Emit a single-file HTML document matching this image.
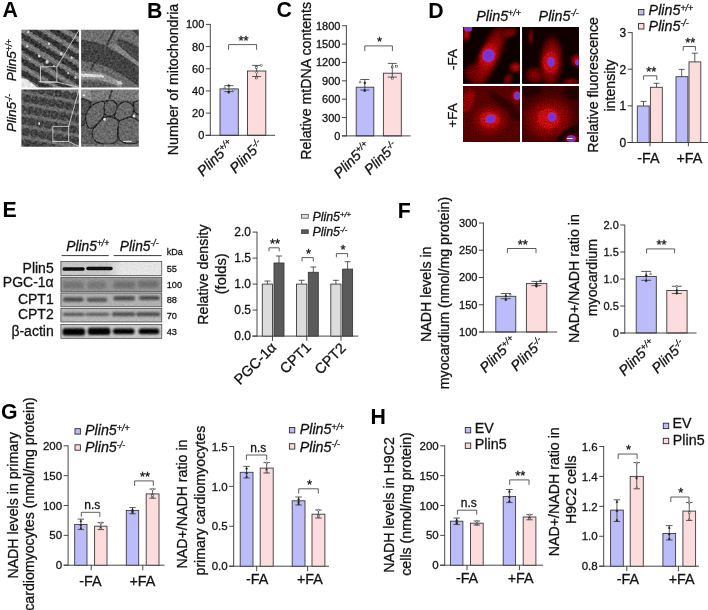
<!DOCTYPE html>
<html lang="en"><head><meta charset="utf-8"><title>Figure</title>
<style>html,body{margin:0;padding:0;background:#fff}body{width:708px;height:610px;overflow:hidden}svg{display:block}</style>
</head><body>
<svg width="708" height="610" viewBox="0 0 708 610" font-family='"Liberation Sans", Arial, sans-serif'>
<rect width="708" height="610" fill="#fff"/>
<defs>
<filter id="grain" x="0" y="0" width="100%" height="100%" color-interpolation-filters="sRGB">
 <feTurbulence type="fractalNoise" baseFrequency="0.45" numOctaves="2" seed="7" result="n"/>
 <feColorMatrix in="n" type="matrix" values="1.5 0 0 0 -0.25  1.5 0 0 0 -0.25  1.5 0 0 0 -0.25  0 0 0 0 1" result="g"/>
 <feGaussianBlur in="SourceGraphic" stdDeviation="0.6" result="b"/>
 <feComposite in="b" in2="g" operator="arithmetic" k1="0" k2="1" k3="0.24" k4="-0.12"/>
</filter>
<filter id="speck" x="0" y="0" width="100%" height="100%" color-interpolation-filters="sRGB">
 <feTurbulence type="fractalNoise" baseFrequency="0.7" numOctaves="2" seed="11" result="n"/>
 <feColorMatrix in="n" type="matrix" values="1.8 0 0 0 -0.4  1.8 0 0 0 -0.4  1.8 0 0 0 -0.4  0 0 0 0 1" result="g"/>
 <feGaussianBlur in="SourceGraphic" stdDeviation="1.3" result="b"/>
 <feComposite in="b" in2="g" operator="arithmetic" k1="0.45" k2="0.64" k3="0" k4="0"/>
</filter>
<filter id="bl1" x="-10%" y="-50%" width="120%" height="200%"><feGaussianBlur stdDeviation="0.9"/></filter>
<filter id="bl05" x="-10%" y="-50%" width="120%" height="200%"><feGaussianBlur stdDeviation="0.55"/></filter>
<filter id="bl2" x="-20%" y="-80%" width="140%" height="260%"><feGaussianBlur stdDeviation="1.6"/></filter>
<filter id="nucb" x="-30%" y="-30%" width="160%" height="160%"><feGaussianBlur stdDeviation="0.7"/></filter>
<filter id="blotn" x="0" y="0" width="100%" height="100%" color-interpolation-filters="sRGB">
 <feTurbulence type="fractalNoise" baseFrequency="0.5" numOctaves="2" seed="5" result="n"/>
 <feColorMatrix in="n" type="matrix" values="1 0 0 0 0  1 0 0 0 0  1 0 0 0 0  0 0 0 0 1" result="g"/>
 <feComposite in="SourceGraphic" in2="g" operator="arithmetic" k1="0" k2="1" k3="0.12" k4="-0.06"/>
</filter>
<radialGradient id="cellR"><stop offset="0" stop-color="#f01414"/><stop offset="0.3" stop-color="#c00606"/><stop offset="0.65" stop-color="#840000" stop-opacity="0.9"/><stop offset="1" stop-color="#500000" stop-opacity="0"/></radialGradient>
<radialGradient id="cellD"><stop offset="0" stop-color="#a40202"/><stop offset="0.6" stop-color="#780000" stop-opacity="0.85"/><stop offset="1" stop-color="#400000" stop-opacity="0"/></radialGradient>
<radialGradient id="nuc"><stop offset="0" stop-color="#6038e0"/><stop offset="0.65" stop-color="#7a34d4"/><stop offset="1" stop-color="#c02490"/></radialGradient>
<clipPath id="cA1"><rect x="21.4" y="29.8" width="57.5" height="57.8"/></clipPath>
<clipPath id="cA2"><rect x="81.1" y="29.8" width="57.7" height="57.8"/></clipPath>
<clipPath id="cA3"><rect x="21.4" y="89.4" width="57.5" height="57.3"/></clipPath>
<clipPath id="cA4"><rect x="81.1" y="89.4" width="57.7" height="57.3"/></clipPath>
<clipPath id="cD1"><rect x="463.1" y="26.9" width="56.8" height="56.9"/></clipPath>
<clipPath id="cD2"><rect x="522.2" y="26.9" width="56.6" height="56.9"/></clipPath>
<clipPath id="cD3"><rect x="463.1" y="85.9" width="56.8" height="56.2"/></clipPath>
<clipPath id="cD4"><rect x="522.2" y="85.9" width="56.6" height="56.2"/></clipPath>
</defs>
<g clip-path="url(#cA1)"><g filter="url(#grain)">
<rect x="20" y="28" width="60" height="61" fill="#727272"/>
<g transform="rotate(31 50 58)">
<rect x="0" y="19.8" width="100" height="4.4" fill="#3e3e3e"/>
<ellipse cx="4.11" cy="22.04" rx="2.41" ry="2.86" fill="#343434" />
<ellipse cx="9.43" cy="21.57" rx="2.99" ry="2.61" fill="#343434" />
<ellipse cx="15.18" cy="21.73" rx="2.44" ry="3.30" fill="#343434" />
<ellipse cx="20.62" cy="21.98" rx="3.30" ry="3.05" fill="#343434" />
<ellipse cx="26.09" cy="22.37" rx="3.00" ry="2.97" fill="#343434" />
<ellipse cx="32.31" cy="21.56" rx="3.06" ry="3.13" fill="#343434" />
<ellipse cx="37.77" cy="21.53" rx="2.50" ry="3.21" fill="#343434" />
<ellipse cx="43.10" cy="22.38" rx="3.13" ry="3.10" fill="#343434" />
<ellipse cx="49.34" cy="22.30" rx="2.64" ry="2.91" fill="#343434" />
<ellipse cx="55.84" cy="21.60" rx="3.37" ry="2.70" fill="#343434" />
<ellipse cx="61.98" cy="21.94" rx="3.50" ry="3.04" fill="#343434" />
<ellipse cx="67.70" cy="21.89" rx="2.81" ry="2.85" fill="#343434" />
<ellipse cx="73.33" cy="22.40" rx="2.93" ry="3.08" fill="#343434" />
<ellipse cx="80.07" cy="22.49" rx="3.33" ry="3.07" fill="#343434" />
<ellipse cx="85.92" cy="22.46" rx="3.34" ry="3.23" fill="#343434" />
<ellipse cx="92.25" cy="21.71" rx="3.12" ry="3.18" fill="#343434" />
<ellipse cx="97.73" cy="21.56" rx="2.48" ry="3.20" fill="#343434" />
<rect x="0" y="26.6" width="100" height="0.9" fill="#8c8c8c"/>
<rect x="0" y="30.3" width="100" height="4.4" fill="#3e3e3e"/>
<ellipse cx="3.88" cy="32.80" rx="2.18" ry="2.89" fill="#343434" />
<ellipse cx="7.71" cy="32.77" rx="2.49" ry="3.21" fill="#343434" />
<ellipse cx="12.15" cy="32.04" rx="2.97" ry="3.10" fill="#343434" />
<ellipse cx="17.96" cy="32.98" rx="3.37" ry="2.95" fill="#343434" />
<ellipse cx="24.44" cy="32.08" rx="2.51" ry="3.02" fill="#343434" />
<ellipse cx="28.25" cy="32.41" rx="2.35" ry="3.03" fill="#343434" />
<ellipse cx="31.88" cy="32.87" rx="2.11" ry="2.82" fill="#343434" />
<ellipse cx="37.92" cy="32.38" rx="3.39" ry="2.92" fill="#343434" />
<ellipse cx="44.11" cy="32.60" rx="3.02" ry="2.99" fill="#343434" />
<ellipse cx="50.54" cy="32.51" rx="3.46" ry="2.90" fill="#343434" />
<ellipse cx="56.53" cy="32.30" rx="2.41" ry="3.28" fill="#343434" />
<ellipse cx="61.60" cy="32.01" rx="2.87" ry="2.89" fill="#343434" />
<ellipse cx="66.44" cy="32.62" rx="2.08" ry="3.04" fill="#343434" />
<ellipse cx="70.51" cy="32.47" rx="2.99" ry="3.08" fill="#343434" />
<ellipse cx="76.11" cy="32.74" rx="3.11" ry="2.62" fill="#343434" />
<ellipse cx="81.29" cy="32.96" rx="3.06" ry="2.78" fill="#343434" />
<ellipse cx="86.97" cy="32.32" rx="2.94" ry="2.85" fill="#343434" />
<ellipse cx="91.94" cy="32.60" rx="2.60" ry="2.81" fill="#343434" />
<ellipse cx="97.30" cy="32.03" rx="3.21" ry="3.00" fill="#343434" />
<rect x="0" y="37.1" width="100" height="0.9" fill="#8c8c8c"/>
<rect x="0" y="40.8" width="100" height="4.4" fill="#3e3e3e"/>
<ellipse cx="4.22" cy="42.72" rx="2.52" ry="3.16" fill="#343434" />
<ellipse cx="8.37" cy="42.94" rx="2.33" ry="3.09" fill="#343434" />
<ellipse cx="12.30" cy="42.83" rx="2.53" ry="3.18" fill="#343434" />
<ellipse cx="17.82" cy="42.67" rx="3.33" ry="2.84" fill="#343434" />
<ellipse cx="24.53" cy="42.95" rx="3.38" ry="2.76" fill="#343434" />
<ellipse cx="29.86" cy="42.69" rx="2.84" ry="3.16" fill="#343434" />
<ellipse cx="35.35" cy="42.78" rx="2.33" ry="3.17" fill="#343434" />
<ellipse cx="40.93" cy="42.85" rx="3.26" ry="2.69" fill="#343434" />
<ellipse cx="46.83" cy="42.77" rx="3.24" ry="2.84" fill="#343434" />
<ellipse cx="52.36" cy="42.91" rx="2.68" ry="3.24" fill="#343434" />
<ellipse cx="56.26" cy="43.44" rx="2.06" ry="3.22" fill="#343434" />
<ellipse cx="61.59" cy="43.45" rx="2.70" ry="3.25" fill="#343434" />
<ellipse cx="66.74" cy="43.34" rx="3.17" ry="3.06" fill="#343434" />
<ellipse cx="72.18" cy="42.84" rx="2.48" ry="2.76" fill="#343434" />
<ellipse cx="76.61" cy="42.79" rx="2.93" ry="3.17" fill="#343434" />
<ellipse cx="81.92" cy="43.19" rx="3.41" ry="3.25" fill="#343434" />
<ellipse cx="89.15" cy="43.08" rx="3.40" ry="2.61" fill="#343434" />
<ellipse cx="95.03" cy="42.80" rx="2.31" ry="3.06" fill="#343434" />
<ellipse cx="99.80" cy="43.44" rx="2.67" ry="3.03" fill="#343434" />
<rect x="0" y="47.6" width="100" height="0.9" fill="#8c8c8c"/>
<rect x="0" y="51.3" width="100" height="4.4" fill="#3e3e3e"/>
<ellipse cx="4.13" cy="53.86" rx="2.43" ry="2.93" fill="#343434" />
<ellipse cx="9.37" cy="53.20" rx="2.58" ry="2.97" fill="#343434" />
<ellipse cx="14.54" cy="53.79" rx="2.31" ry="3.25" fill="#343434" />
<ellipse cx="20.40" cy="53.01" rx="3.29" ry="3.04" fill="#343434" />
<ellipse cx="26.18" cy="53.27" rx="2.12" ry="2.79" fill="#343434" />
<ellipse cx="30.78" cy="53.47" rx="2.68" ry="3.14" fill="#343434" />
<ellipse cx="34.50" cy="53.13" rx="2.13" ry="2.69" fill="#343434" />
<ellipse cx="39.16" cy="53.85" rx="3.51" ry="2.66" fill="#343434" />
<ellipse cx="44.95" cy="53.31" rx="2.52" ry="2.85" fill="#343434" />
<ellipse cx="50.41" cy="53.36" rx="2.93" ry="2.73" fill="#343434" />
<ellipse cx="55.03" cy="53.56" rx="2.24" ry="3.10" fill="#343434" />
<ellipse cx="58.98" cy="53.18" rx="2.17" ry="2.86" fill="#343434" />
<ellipse cx="64.30" cy="53.38" rx="3.22" ry="3.16" fill="#343434" />
<ellipse cx="70.18" cy="53.37" rx="2.70" ry="2.95" fill="#343434" />
<ellipse cx="75.66" cy="53.69" rx="2.68" ry="2.92" fill="#343434" />
<ellipse cx="80.51" cy="53.70" rx="2.85" ry="2.65" fill="#343434" />
<ellipse cx="85.67" cy="53.88" rx="2.69" ry="3.26" fill="#343434" />
<ellipse cx="91.30" cy="53.79" rx="3.40" ry="2.78" fill="#343434" />
<ellipse cx="96.62" cy="53.81" rx="2.23" ry="3.06" fill="#343434" />
<rect x="0" y="58.1" width="100" height="0.9" fill="#8c8c8c"/>
<rect x="0" y="61.8" width="100" height="4.4" fill="#3e3e3e"/>
<ellipse cx="4.94" cy="64.17" rx="3.24" ry="3.11" fill="#343434" />
<ellipse cx="10.24" cy="64.09" rx="2.20" ry="2.60" fill="#343434" />
<ellipse cx="14.80" cy="63.54" rx="3.21" ry="2.66" fill="#343434" />
<ellipse cx="20.45" cy="63.68" rx="3.37" ry="2.62" fill="#343434" />
<ellipse cx="26.38" cy="64.34" rx="2.23" ry="3.07" fill="#343434" />
<ellipse cx="32.42" cy="64.08" rx="3.48" ry="3.16" fill="#343434" />
<ellipse cx="38.06" cy="64.01" rx="3.20" ry="3.10" fill="#343434" />
<ellipse cx="43.51" cy="64.43" rx="3.17" ry="2.64" fill="#343434" />
<ellipse cx="49.04" cy="64.33" rx="2.90" ry="2.77" fill="#343434" />
<ellipse cx="53.56" cy="64.12" rx="2.42" ry="3.13" fill="#343434" />
<ellipse cx="58.16" cy="63.90" rx="2.60" ry="2.85" fill="#343434" />
<ellipse cx="62.54" cy="64.00" rx="2.17" ry="3.28" fill="#343434" />
<ellipse cx="67.49" cy="63.66" rx="3.17" ry="3.08" fill="#343434" />
<ellipse cx="73.91" cy="64.02" rx="3.06" ry="2.94" fill="#343434" />
<ellipse cx="80.36" cy="63.65" rx="3.40" ry="2.67" fill="#343434" />
<ellipse cx="87.35" cy="64.02" rx="3.42" ry="2.91" fill="#343434" />
<ellipse cx="93.23" cy="63.77" rx="2.33" ry="2.74" fill="#343434" />
<ellipse cx="97.98" cy="63.73" rx="2.52" ry="3.08" fill="#343434" />
<rect x="0" y="68.6" width="100" height="0.9" fill="#8c8c8c"/>
<rect x="0" y="72.3" width="100" height="4.4" fill="#3e3e3e"/>
<ellipse cx="4.19" cy="74.71" rx="2.49" ry="2.89" fill="#343434" />
<ellipse cx="9.97" cy="74.27" rx="2.93" ry="2.75" fill="#343434" />
<ellipse cx="14.60" cy="74.38" rx="2.77" ry="2.72" fill="#343434" />
<ellipse cx="19.42" cy="74.77" rx="2.53" ry="2.70" fill="#343434" />
<ellipse cx="25.30" cy="74.60" rx="2.77" ry="2.93" fill="#343434" />
<ellipse cx="31.67" cy="74.56" rx="3.28" ry="2.94" fill="#343434" />
<ellipse cx="38.42" cy="74.40" rx="3.33" ry="3.11" fill="#343434" />
<ellipse cx="45.04" cy="74.23" rx="2.75" ry="2.76" fill="#343434" />
<ellipse cx="50.97" cy="74.96" rx="3.06" ry="3.20" fill="#343434" />
<ellipse cx="55.68" cy="74.26" rx="2.33" ry="2.73" fill="#343434" />
<ellipse cx="61.45" cy="74.90" rx="3.34" ry="2.78" fill="#343434" />
<ellipse cx="67.68" cy="74.42" rx="2.52" ry="3.11" fill="#343434" />
<ellipse cx="71.43" cy="74.83" rx="2.19" ry="2.80" fill="#343434" />
<ellipse cx="76.05" cy="74.68" rx="2.92" ry="2.60" fill="#343434" />
<ellipse cx="81.14" cy="74.49" rx="2.70" ry="2.75" fill="#343434" />
<ellipse cx="87.22" cy="74.39" rx="3.48" ry="2.98" fill="#343434" />
<ellipse cx="92.27" cy="74.67" rx="2.46" ry="2.68" fill="#343434" />
<ellipse cx="98.56" cy="74.10" rx="3.41" ry="3.26" fill="#343434" />
<rect x="0" y="79.1" width="100" height="0.9" fill="#8c8c8c"/>
<rect x="0" y="82.8" width="100" height="4.4" fill="#3e3e3e"/>
<ellipse cx="4.91" cy="85.26" rx="3.21" ry="2.81" fill="#343434" />
<ellipse cx="11.20" cy="85.31" rx="3.03" ry="2.79" fill="#343434" />
<ellipse cx="17.90" cy="85.17" rx="3.49" ry="2.98" fill="#343434" />
<ellipse cx="23.28" cy="84.85" rx="2.79" ry="3.10" fill="#343434" />
<ellipse cx="29.02" cy="84.68" rx="2.90" ry="3.05" fill="#343434" />
<ellipse cx="34.21" cy="85.39" rx="2.32" ry="3.06" fill="#343434" />
<ellipse cx="39.09" cy="84.64" rx="3.45" ry="2.83" fill="#343434" />
<ellipse cx="45.61" cy="85.05" rx="2.95" ry="3.05" fill="#343434" />
<ellipse cx="50.75" cy="84.68" rx="2.52" ry="2.65" fill="#343434" />
<ellipse cx="56.57" cy="85.04" rx="3.18" ry="3.12" fill="#343434" />
<ellipse cx="61.71" cy="84.88" rx="2.45" ry="3.21" fill="#343434" />
<ellipse cx="65.94" cy="84.75" rx="2.81" ry="3.14" fill="#343434" />
<ellipse cx="70.79" cy="84.90" rx="2.55" ry="2.98" fill="#343434" />
<ellipse cx="76.13" cy="85.35" rx="2.58" ry="2.68" fill="#343434" />
<ellipse cx="80.27" cy="84.61" rx="2.20" ry="3.15" fill="#343434" />
<ellipse cx="84.94" cy="84.69" rx="2.33" ry="2.89" fill="#343434" />
<ellipse cx="90.70" cy="85.25" rx="3.27" ry="3.01" fill="#343434" />
<ellipse cx="95.77" cy="84.69" rx="2.65" ry="2.97" fill="#343434" />
<rect x="0" y="89.6" width="100" height="0.9" fill="#8c8c8c"/>
<rect x="0" y="93.3" width="100" height="4.4" fill="#3e3e3e"/>
<ellipse cx="4.05" cy="95.25" rx="2.35" ry="3.15" fill="#343434" />
<ellipse cx="8.61" cy="95.89" rx="3.25" ry="3.26" fill="#343434" />
<ellipse cx="14.30" cy="95.58" rx="2.88" ry="3.04" fill="#343434" />
<ellipse cx="20.82" cy="95.30" rx="3.08" ry="3.20" fill="#343434" />
<ellipse cx="26.57" cy="95.73" rx="2.95" ry="2.60" fill="#343434" />
<ellipse cx="32.78" cy="95.49" rx="3.04" ry="2.97" fill="#343434" />
<ellipse cx="37.84" cy="95.53" rx="2.34" ry="2.63" fill="#343434" />
<ellipse cx="42.95" cy="95.44" rx="3.02" ry="3.00" fill="#343434" />
<ellipse cx="49.89" cy="95.14" rx="3.39" ry="3.15" fill="#343434" />
<ellipse cx="55.36" cy="95.36" rx="2.13" ry="2.76" fill="#343434" />
<ellipse cx="59.38" cy="95.93" rx="2.86" ry="2.83" fill="#343434" />
<ellipse cx="65.71" cy="95.13" rx="3.09" ry="3.20" fill="#343434" />
<ellipse cx="72.16" cy="95.72" rx="3.44" ry="3.12" fill="#343434" />
<ellipse cx="78.35" cy="95.93" rx="3.26" ry="3.20" fill="#343434" />
<ellipse cx="84.44" cy="95.49" rx="3.19" ry="2.68" fill="#343434" />
<ellipse cx="88.76" cy="95.20" rx="2.17" ry="2.71" fill="#343434" />
<ellipse cx="93.77" cy="95.54" rx="3.10" ry="2.90" fill="#343434" />
<ellipse cx="99.38" cy="95.46" rx="2.51" ry="3.13" fill="#343434" />
<rect x="0" y="100.1" width="100" height="0.9" fill="#8c8c8c"/>
</g>
<ellipse cx="49.01" cy="43.73" rx="1.28" ry="1.47" fill="#cfcfcf" />
<ellipse cx="61.30" cy="53.76" rx="1.47" ry="1.70" fill="#cfcfcf" />
<ellipse cx="39.17" cy="56.02" rx="1.38" ry="1.58" fill="#cfcfcf" />
<ellipse cx="47.04" cy="61.92" rx="1.67" ry="1.92" fill="#cfcfcf" />
<ellipse cx="27.37" cy="46.19" rx="1.08" ry="1.24" fill="#cfcfcf" />
<ellipse cx="71.62" cy="57.50" rx="1.18" ry="1.36" fill="#cfcfcf" />
<ellipse cx="28.36" cy="31.93" rx="1.18" ry="1.36" fill="#cfcfcf" />
<ellipse cx="68.18" cy="73.23" rx="0.98" ry="1.13" fill="#cfcfcf" />
<ellipse cx="75.56" cy="77.66" rx="1.18" ry="1.36" fill="#cfcfcf" />
<ellipse cx="29.83" cy="59.47" rx="0.79" ry="0.90" fill="#cfcfcf" />
<ellipse cx="53.92" cy="65.86" rx="0.88" ry="1.02" fill="#cfcfcf" />
<path d="M20.0 77.7L25.9 79.1L31.8 83.1L38.7 88.5L20.0 88.5Z" fill="#e6e6e6" />
</g></g>
<g clip-path="url(#cA2)"><g filter="url(#grain)">
<rect x="80" y="28" width="60" height="61" fill="#6e6e6e"/>
<path d="M80.0 39.8L91.8 41.3L104.6 45.2L124.2 56.5L141.0 67.3L141.0 88.0L135.1 84.0L122.3 75.2L109.5 67.8L94.7 62.9L80.0 60.9Z" fill="#434343" />
<path d="M109.5 44.7L117.4 44.2L141.0 64.4L141.0 68.3L124.2 56.5Z" fill="#868686" />
<path d="M117.9 38.3L129.2 41.8L141.0 48.6L141.0 63.9L129.2 54.5L116.9 44.2Z" fill="#484848" />
<path d="M131.1 29.0L141.0 29.0L141.0 38.8L136.0 33.9Z" fill="#3e3e3e" />
<path d="M113.9 29.0L116.1 29.0L107.7 45.5L105.8 44.7Z" fill="#383838" />
<path d="M80.0 61.4L94.7 63.4L109.5 68.3L122.3 75.7L135.1 84.5L139.0 89.0L80.0 89.0Z" fill="#6a6a6a" />
<path d="M93.8 62.1L95.7 62.6L91.8 70.1L90.0 69.3Z" fill="#383838" />
<path d="M80.0 70.8L99.7 72.2L112.4 77.7L123.3 83.1L121.3 87.0L109.5 83.1L97.7 79.6L80.0 79.6Z" fill="#909090" />
<path d="M80.5 73.4L91.8 74.0L103.1 75.2L104.6 77.4L91.8 77.0L81.5 76.7Z" fill="#dcdcdc" />
<path d="M115.9 80.4L121.3 81.6L122.1 84.8L117.4 83.7Z" fill="#d0d0d0" />
<path d="M82.9 81.6L99.7 82.1L119.3 88.0L82.9 88.5Z" fill="#555" />
</g></g>
<g clip-path="url(#cA3)"><g filter="url(#grain)">
<rect x="20" y="88" width="60" height="60" fill="#5a5a5a"/>
<path d="M57.4 88.0L81.0 88.0L81.0 96.8L71.1 94.9L59.3 91.9Z" fill="#787878" />
<g transform="rotate(10 50 118)">
<rect x="10" y="96.2" width="90" height="2.6" fill="#6e6e6e"/>
<ellipse cx="12.00" cy="92.00" rx="3.60" ry="3.30" fill="#424242" stroke="#303030" stroke-width="0.5"/>
<ellipse cx="20.40" cy="92.00" rx="3.60" ry="3.30" fill="#424242" stroke="#303030" stroke-width="0.5"/>
<ellipse cx="28.80" cy="92.00" rx="3.60" ry="3.30" fill="#424242" stroke="#303030" stroke-width="0.5"/>
<ellipse cx="37.20" cy="92.00" rx="3.60" ry="3.30" fill="#424242" stroke="#303030" stroke-width="0.5"/>
<ellipse cx="45.60" cy="92.00" rx="3.60" ry="3.30" fill="#424242" stroke="#303030" stroke-width="0.5"/>
<ellipse cx="54.00" cy="92.00" rx="3.60" ry="3.30" fill="#424242" stroke="#303030" stroke-width="0.5"/>
<ellipse cx="62.40" cy="92.00" rx="3.60" ry="3.30" fill="#424242" stroke="#303030" stroke-width="0.5"/>
<ellipse cx="70.80" cy="92.00" rx="3.60" ry="3.30" fill="#424242" stroke="#303030" stroke-width="0.5"/>
<ellipse cx="79.20" cy="92.00" rx="3.60" ry="3.30" fill="#424242" stroke="#303030" stroke-width="0.5"/>
<rect x="10" y="107.2" width="90" height="2.6" fill="#6e6e6e"/>
<ellipse cx="15.50" cy="103.00" rx="3.60" ry="3.30" fill="#424242" stroke="#303030" stroke-width="0.5"/>
<ellipse cx="23.90" cy="103.00" rx="3.60" ry="3.30" fill="#424242" stroke="#303030" stroke-width="0.5"/>
<ellipse cx="32.30" cy="103.00" rx="3.60" ry="3.30" fill="#424242" stroke="#303030" stroke-width="0.5"/>
<ellipse cx="40.70" cy="103.00" rx="3.60" ry="3.30" fill="#424242" stroke="#303030" stroke-width="0.5"/>
<ellipse cx="49.10" cy="103.00" rx="3.60" ry="3.30" fill="#424242" stroke="#303030" stroke-width="0.5"/>
<ellipse cx="57.50" cy="103.00" rx="3.60" ry="3.30" fill="#424242" stroke="#303030" stroke-width="0.5"/>
<ellipse cx="65.90" cy="103.00" rx="3.60" ry="3.30" fill="#424242" stroke="#303030" stroke-width="0.5"/>
<ellipse cx="74.30" cy="103.00" rx="3.60" ry="3.30" fill="#424242" stroke="#303030" stroke-width="0.5"/>
<ellipse cx="82.70" cy="103.00" rx="3.60" ry="3.30" fill="#424242" stroke="#303030" stroke-width="0.5"/>
<rect x="10" y="118.2" width="90" height="2.6" fill="#6e6e6e"/>
<ellipse cx="12.00" cy="114.00" rx="3.60" ry="3.30" fill="#424242" stroke="#303030" stroke-width="0.5"/>
<ellipse cx="20.40" cy="114.00" rx="3.60" ry="3.30" fill="#424242" stroke="#303030" stroke-width="0.5"/>
<ellipse cx="28.80" cy="114.00" rx="3.60" ry="3.30" fill="#424242" stroke="#303030" stroke-width="0.5"/>
<ellipse cx="37.20" cy="114.00" rx="3.60" ry="3.30" fill="#424242" stroke="#303030" stroke-width="0.5"/>
<ellipse cx="45.60" cy="114.00" rx="3.60" ry="3.30" fill="#424242" stroke="#303030" stroke-width="0.5"/>
<ellipse cx="54.00" cy="114.00" rx="3.60" ry="3.30" fill="#424242" stroke="#303030" stroke-width="0.5"/>
<ellipse cx="62.40" cy="114.00" rx="3.60" ry="3.30" fill="#424242" stroke="#303030" stroke-width="0.5"/>
<ellipse cx="70.80" cy="114.00" rx="3.60" ry="3.30" fill="#424242" stroke="#303030" stroke-width="0.5"/>
<ellipse cx="79.20" cy="114.00" rx="3.60" ry="3.30" fill="#424242" stroke="#303030" stroke-width="0.5"/>
<rect x="10" y="129.2" width="90" height="2.6" fill="#6e6e6e"/>
<ellipse cx="15.50" cy="125.00" rx="3.60" ry="3.30" fill="#424242" stroke="#303030" stroke-width="0.5"/>
<ellipse cx="23.90" cy="125.00" rx="3.60" ry="3.30" fill="#424242" stroke="#303030" stroke-width="0.5"/>
<ellipse cx="32.30" cy="125.00" rx="3.60" ry="3.30" fill="#424242" stroke="#303030" stroke-width="0.5"/>
<ellipse cx="40.70" cy="125.00" rx="3.60" ry="3.30" fill="#424242" stroke="#303030" stroke-width="0.5"/>
<ellipse cx="49.10" cy="125.00" rx="3.60" ry="3.30" fill="#424242" stroke="#303030" stroke-width="0.5"/>
<ellipse cx="57.50" cy="125.00" rx="3.60" ry="3.30" fill="#424242" stroke="#303030" stroke-width="0.5"/>
<ellipse cx="65.90" cy="125.00" rx="3.60" ry="3.30" fill="#424242" stroke="#303030" stroke-width="0.5"/>
<ellipse cx="74.30" cy="125.00" rx="3.60" ry="3.30" fill="#424242" stroke="#303030" stroke-width="0.5"/>
<ellipse cx="82.70" cy="125.00" rx="3.60" ry="3.30" fill="#424242" stroke="#303030" stroke-width="0.5"/>
<rect x="10" y="140.2" width="90" height="2.6" fill="#6e6e6e"/>
<ellipse cx="12.00" cy="136.00" rx="3.60" ry="3.30" fill="#424242" stroke="#303030" stroke-width="0.5"/>
<ellipse cx="20.40" cy="136.00" rx="3.60" ry="3.30" fill="#424242" stroke="#303030" stroke-width="0.5"/>
<ellipse cx="28.80" cy="136.00" rx="3.60" ry="3.30" fill="#424242" stroke="#303030" stroke-width="0.5"/>
<ellipse cx="37.20" cy="136.00" rx="3.60" ry="3.30" fill="#424242" stroke="#303030" stroke-width="0.5"/>
<ellipse cx="45.60" cy="136.00" rx="3.60" ry="3.30" fill="#424242" stroke="#303030" stroke-width="0.5"/>
<ellipse cx="54.00" cy="136.00" rx="3.60" ry="3.30" fill="#424242" stroke="#303030" stroke-width="0.5"/>
<ellipse cx="62.40" cy="136.00" rx="3.60" ry="3.30" fill="#424242" stroke="#303030" stroke-width="0.5"/>
<ellipse cx="70.80" cy="136.00" rx="3.60" ry="3.30" fill="#424242" stroke="#303030" stroke-width="0.5"/>
<ellipse cx="79.20" cy="136.00" rx="3.60" ry="3.30" fill="#424242" stroke="#303030" stroke-width="0.5"/>
<rect x="10" y="151.2" width="90" height="2.6" fill="#6e6e6e"/>
<ellipse cx="15.50" cy="147.00" rx="3.60" ry="3.30" fill="#424242" stroke="#303030" stroke-width="0.5"/>
<ellipse cx="23.90" cy="147.00" rx="3.60" ry="3.30" fill="#424242" stroke="#303030" stroke-width="0.5"/>
<ellipse cx="32.30" cy="147.00" rx="3.60" ry="3.30" fill="#424242" stroke="#303030" stroke-width="0.5"/>
<ellipse cx="40.70" cy="147.00" rx="3.60" ry="3.30" fill="#424242" stroke="#303030" stroke-width="0.5"/>
<ellipse cx="49.10" cy="147.00" rx="3.60" ry="3.30" fill="#424242" stroke="#303030" stroke-width="0.5"/>
<ellipse cx="57.50" cy="147.00" rx="3.60" ry="3.30" fill="#424242" stroke="#303030" stroke-width="0.5"/>
<ellipse cx="65.90" cy="147.00" rx="3.60" ry="3.30" fill="#424242" stroke="#303030" stroke-width="0.5"/>
<ellipse cx="74.30" cy="147.00" rx="3.60" ry="3.30" fill="#424242" stroke="#303030" stroke-width="0.5"/>
<ellipse cx="82.70" cy="147.00" rx="3.60" ry="3.30" fill="#424242" stroke="#303030" stroke-width="0.5"/>
</g>
<ellipse cx="39.17" cy="123.40" rx="0.90" ry="1.50" fill="#ddd" />
</g></g>
<g clip-path="url(#cA4)"><g filter="url(#grain)">
<rect x="80" y="88" width="60" height="60" fill="#5e5e5e"/>
<rect x="80" y="88" width="60" height="12.5" fill="#7a7a7a"/>
<path d="M80.0 88.0L90.8 88.0L91.3 100.8L80.0 100.8Z" fill="#8a8a8a" />
<path d="M111.0 90.0L112.9 90.2L110.0 99.0L108.3 98.6Z" fill="#3a3a3a" />
<path d="M80.8 100.6C81.6 96.5 84.2 99.4 85.9 99.8C87.6 100.2 90.4 101.5 91.0 102.7C91.7 104.0 90.7 105.2 89.8 107.2C89.0 109.1 86.9 112.0 86.1 114.5C85.3 117.1 85.8 120.7 84.9 122.4C84.0 124.1 81.5 128.2 80.8 124.6C80.1 120.9 79.9 104.7 80.8 100.6Z" fill="#4e4e4e" stroke="#262626" stroke-width="1.15" stroke-linejoin="round"/>
<path d="M86.9 124.6C86.0 122.5 85.1 119.0 85.7 116.0C86.3 113.1 88.3 109.2 90.6 106.9C92.9 104.5 97.2 102.8 99.7 102.0C102.1 101.1 104.4 100.9 105.2 102.0C106.0 103.0 104.8 105.9 104.6 108.2C104.4 110.5 105.1 113.2 104.0 115.7C102.8 118.3 99.9 121.3 97.7 123.4C95.5 125.5 92.6 128.3 90.8 128.5C89.0 128.7 87.7 126.7 86.9 124.6Z" fill="#696969" stroke="#262626" stroke-width="1.15" stroke-linejoin="round"/>
<path d="M105.2 102.0C106.1 100.2 108.0 100.4 109.5 100.3C111.0 100.2 113.1 100.3 114.4 101.4C115.7 102.5 117.2 105.0 117.4 106.9C117.5 108.8 116.4 111.2 115.4 112.8C114.4 114.3 113.1 115.7 111.5 116.1C109.9 116.5 107.0 116.1 105.8 115.1C104.5 114.2 104.3 112.8 104.2 110.6C104.1 108.4 104.3 103.7 105.2 102.0Z" fill="#646464" stroke="#262626" stroke-width="1.15" stroke-linejoin="round"/>
<path d="M117.4 106.9C118.3 105.2 119.7 103.8 121.3 102.9C122.9 102.1 125.4 101.6 127.2 101.9C129.0 102.2 131.0 103.4 132.1 104.8C133.2 106.3 133.9 108.7 133.7 110.6C133.5 112.5 132.7 114.8 131.1 116.1C129.6 117.4 126.2 117.8 124.2 118.6C122.3 119.3 120.9 120.9 119.3 120.5C117.7 120.2 115.2 117.9 114.6 116.6C114.0 115.3 115.1 114.4 115.6 112.8C116.1 111.2 116.4 108.5 117.4 106.9Z" fill="#6a6a6a" stroke="#262626" stroke-width="1.15" stroke-linejoin="round"/>
<path d="M119.3 121.5C120.4 119.7 122.3 119.8 124.2 119.1C126.2 118.3 129.0 117.0 131.1 117.1C133.3 117.2 135.4 118.3 137.0 119.6C138.6 120.8 140.1 121.3 140.8 124.6C141.4 127.8 141.7 136.0 140.8 139.1C139.8 142.2 137.5 142.5 135.1 143.2C132.6 143.8 128.8 143.8 126.2 143.2C123.6 142.5 120.9 141.4 119.5 139.2C118.2 137.1 118.0 133.2 118.0 130.3C117.9 127.3 118.3 123.4 119.3 121.5Z" fill="#686868" stroke="#262626" stroke-width="1.15" stroke-linejoin="round"/>
<path d="M92.8 129.4C93.7 127.5 95.8 126.0 97.7 124.0C99.6 122.0 101.8 118.7 104.1 117.6C106.4 116.4 109.1 116.4 111.5 117.1C113.8 117.8 117.3 119.3 118.3 121.5C119.3 123.7 117.6 127.3 117.5 130.3C117.3 133.2 118.1 137.1 117.5 139.2C116.8 141.4 115.6 142.3 113.4 143.2C111.3 144.0 107.5 144.5 104.6 144.1C101.6 143.8 97.8 142.7 95.7 141.2C93.7 139.7 92.8 137.3 92.3 135.3C91.8 133.3 91.9 131.3 92.8 129.4Z" fill="#6a6a6a" stroke="#262626" stroke-width="1.15" stroke-linejoin="round"/>
<path d="M133.7 102.7C134.9 101.7 139.6 99.7 140.8 101.6C141.9 103.4 141.7 111.9 140.8 113.8C139.8 115.6 136.4 113.6 135.3 112.6C134.1 111.6 134.0 109.3 133.8 107.7C133.5 106.0 132.5 103.8 133.7 102.7Z" fill="#606060" stroke="#262626" stroke-width="1.15" stroke-linejoin="round"/>
<rect x="80" y="144.3" width="60" height="3" fill="#727272"/>
<ellipse cx="104.58" cy="119.47" rx="1.30" ry="1.40" fill="#e4e4e4" />
<ellipse cx="134.08" cy="116.02" rx="1.40" ry="1.50" fill="#e4e4e4" />
<ellipse cx="83.93" cy="95.37" rx="1.20" ry="1.00" fill="#e8e8e8" />
</g></g>
<rect x="40.6" y="66.8" width="16.3" height="15.3" fill="none" stroke="#dcdcdc" stroke-width="0.8"/>
<path d="M56.9 66.8L79 30M38.5 81.6L56.9 82.1L79 87.4" stroke="#dcdcdc" stroke-width="0.8" fill="none"/>
<rect x="52.9" y="126.3" width="15.8" height="15.3" fill="none" stroke="#dcdcdc" stroke-width="0.8"/>
<path d="M68.7 126.3L79 89.8M68.7 141.6L79 146.4" stroke="#dcdcdc" stroke-width="0.8" fill="none"/>
<line x1="123.2" y1="141.4" x2="131.7" y2="141.4" stroke="#f4f4f4" stroke-width="0.9"/>
<g clip-path="url(#cD1)"><rect x="462" y="26" width="59" height="59" fill="#080000"/><g filter="url(#speck)">
<rect x="462" y="26" width="59" height="59" fill="#100000"/>
<ellipse cx="473.80" cy="73.20" rx="12.00" ry="12.00" fill="url(#cellD)" />
<ellipse cx="489.04" cy="56.48" rx="13.00" ry="42.00" fill="url(#cellR)" transform="rotate(24 489.04 56.48)" />
<ellipse cx="509.20" cy="32.88" rx="11.00" ry="6.00" fill="url(#cellD)" transform="rotate(-20 509.20 32.88)" />
<ellipse cx="488.55" cy="55.50" rx="8.50" ry="12.00" fill="#d60a0a" transform="rotate(20 488.55 55.50)" />
<ellipse cx="466.42" cy="33.87" rx="5.00" ry="10.00" fill="url(#cellR)" transform="rotate(10 466.42 33.87)" />
<ellipse cx="515.59" cy="67.30" rx="8.00" ry="6.50" fill="url(#cellR)" />
<ellipse cx="508.21" cy="79.10" rx="5.00" ry="8.00" fill="url(#cellD)" transform="rotate(30 508.21 79.10)" />
</g>
<ellipse cx="488.55" cy="55.50" rx="6.30" ry="7.00" fill="url(#nuc)" transform="rotate(25 488.55 55.50)" filter="url(#nucb)"/>
<ellipse cx="468.10" cy="28.16" rx="4.20" ry="3.40" fill="url(#nuc)" filter="url(#nucb)"/>
</g>
<g clip-path="url(#cD2)"><rect x="521" y="26" width="59" height="59" fill="#080000"/><g filter="url(#speck)">
<rect x="521" y="26" width="59" height="59" fill="#120000"/>
<ellipse cx="530.82" cy="36.82" rx="3.00" ry="10.00" fill="url(#cellD)" transform="rotate(5 530.82 36.82)" />
<ellipse cx="534.75" cy="75.16" rx="12.00" ry="10.00" fill="url(#cellD)" />
<ellipse cx="550.97" cy="61.40" rx="14.00" ry="30.00" fill="url(#cellR)" transform="rotate(4 550.97 61.40)" />
<ellipse cx="550.48" cy="62.38" rx="8.00" ry="11.00" fill="#dc0c0c" />
<ellipse cx="576.54" cy="60.41" rx="7.00" ry="8.00" fill="url(#cellR)" />
<ellipse cx="571.13" cy="82.05" rx="10.00" ry="5.00" fill="url(#cellD)" />
</g>
<ellipse cx="550.97" cy="61.89" rx="3.90" ry="5.40" fill="url(#nuc)" transform="rotate(-8 550.97 61.89)" filter="url(#nucb)"/>
<ellipse cx="577.72" cy="62.38" rx="2.60" ry="3.00" fill="url(#nuc)" filter="url(#nucb)"/>
</g>
<g clip-path="url(#cD3)"><rect x="462" y="85" width="59" height="58" fill="#200000"/><g filter="url(#speck)">
<rect x="462" y="85" width="59" height="58" fill="#640000"/>
<ellipse cx="467.90" cy="100.72" rx="6.00" ry="12.00" fill="#a40000" transform="rotate(20 467.90 100.72)" />
<ellipse cx="504.28" cy="103.67" rx="20.00" ry="4.50" fill="#3a0000" transform="rotate(38 504.28 103.67)" />
<ellipse cx="517.06" cy="116.45" rx="8.00" ry="4.00" fill="#3a0000" transform="rotate(10 517.06 116.45)" />
<ellipse cx="490.02" cy="119.89" rx="24.00" ry="20.00" fill="url(#cellR)" />
<ellipse cx="490.02" cy="119.40" rx="10.00" ry="8.00" fill="#e01010" />
<ellipse cx="516.57" cy="96.29" rx="8.00" ry="9.00" fill="url(#cellR)" />
</g>
<ellipse cx="490.52" cy="118.91" rx="5.60" ry="4.40" fill="url(#nuc)" transform="rotate(-20 490.52 118.91)" filter="url(#nucb)"/>
<ellipse cx="517.06" cy="95.80" rx="3.30" ry="4.30" fill="url(#nuc)" filter="url(#nucb)"/>
</g>
<g clip-path="url(#cD4)"><rect x="521" y="85" width="59" height="58" fill="#200000"/><g filter="url(#speck)">
<rect x="521" y="85" width="59" height="58" fill="#4c0000"/>
<ellipse cx="527.87" cy="89.90" rx="14.00" ry="7.00" fill="#2a0000" />
<ellipse cx="573.10" cy="91.87" rx="10.00" ry="8.00" fill="#2a0000" />
<ellipse cx="548.52" cy="118.41" rx="32.00" ry="27.00" fill="url(#cellR)" transform="rotate(-15 548.52 118.41)" />
<ellipse cx="548.52" cy="118.41" rx="11.00" ry="10.00" fill="#e21010" />
<ellipse cx="572.11" cy="130.21" rx="12.00" ry="3.50" fill="#1c0000" transform="rotate(-28 572.11 130.21)" />
<ellipse cx="561.30" cy="139.06" rx="4.00" ry="6.00" fill="#1c0000" transform="rotate(30 561.30 139.06)" />
<ellipse cx="571.13" cy="139.06" rx="8.00" ry="6.00" fill="url(#cellR)" />
</g>
<ellipse cx="551.96" cy="116.94" rx="4.60" ry="4.80" fill="url(#nuc)" filter="url(#nucb)"/>
<ellipse cx="571.13" cy="138.57" rx="4.80" ry="3.40" fill="url(#nuc)" filter="url(#nucb)"/>
<line x1="567" y1="138.5" x2="572.5" y2="138.5" stroke="#fff" stroke-width="1"/>
</g>
<clipPath id="cb261"><rect x="60.9" y="261.4" width="100.9" height="14.2"/></clipPath>
<g clip-path="url(#cb261)"><g filter="url(#blotn)"><rect x="60" y="260.4" width="103" height="16.2" fill="#c6c6c6"/><linearGradient id="r1g" gradientUnits="userSpaceOnUse" x1="106" y1="0" x2="121" y2="0"><stop offset="0" stop-color="#e4e4e4" stop-opacity="0"/><stop offset="1" stop-color="#e4e4e4"/></linearGradient><rect x="106" y="260" width="57" height="17" fill="url(#r1g)"/>
<g filter="url(#bl05)">
<rect x="62.51" y="267.29" width="22.15" height="3.36" rx="1.68" fill="#0c0c0c"/>
<rect x="86.24" y="266.70" width="26.50" height="3.56" rx="1.78" fill="#0c0c0c"/>
</g></g></g>
<rect x="60.9" y="261.4" width="100.9" height="14.2" fill="none" stroke="#3a3a3a" stroke-width="0.7"/>
<clipPath id="cb277"><rect x="60.9" y="277.2" width="100.9" height="14.6"/></clipPath>
<g clip-path="url(#cb277)"><g filter="url(#blotn)"><rect x="60" y="276.2" width="103" height="16.6" fill="#949494"/>
<g filter="url(#bl2)">
<rect x="62.91" y="281.53" width="20.76" height="7.32" rx="2.50" fill="#747474"/>
<rect x="87.63" y="281.53" width="18.39" height="7.32" rx="2.50" fill="#767676"/>
<rect x="113.33" y="281.13" width="21.75" height="7.32" rx="2.50" fill="#707070"/>
<rect x="138.05" y="280.74" width="20.76" height="7.12" rx="2.50" fill="#6e6e6e"/>
</g></g></g>
<rect x="60.9" y="277.2" width="100.9" height="14.6" fill="none" stroke="#3a3a3a" stroke-width="0.7"/>
<clipPath id="cb293"><rect x="60.9" y="293" width="100.9" height="13.8"/></clipPath>
<g clip-path="url(#cb293)"><g filter="url(#blotn)"><rect x="60" y="292" width="103" height="15.8" fill="#b0b0b0"/>
<g filter="url(#bl1)">
<rect x="62.91" y="297.35" width="20.76" height="4.35" rx="2.18" fill="#4c4c4c"/>
<rect x="86.64" y="297.54" width="20.76" height="4.55" rx="2.27" fill="#565656"/>
<rect x="113.33" y="296.36" width="21.75" height="4.15" rx="2.08" fill="#464646"/>
<rect x="139.04" y="295.96" width="20.76" height="4.15" rx="2.08" fill="#464646"/>
</g></g></g>
<rect x="60.9" y="293" width="100.9" height="13.8" fill="none" stroke="#3a3a3a" stroke-width="0.7"/>
<clipPath id="cb308"><rect x="60.9" y="308.6" width="100.9" height="13.4"/></clipPath>
<g clip-path="url(#cb308)"><g filter="url(#blotn)"><rect x="60" y="307.6" width="103" height="15.4" fill="#b6b6b6"/>
<g filter="url(#bl1)">
<rect x="62.91" y="312.77" width="21.75" height="3.16" rx="1.58" fill="#565656"/>
<rect x="85.65" y="312.77" width="23.73" height="3.16" rx="1.58" fill="#5c5c5c"/>
<rect x="111.95" y="312.37" width="23.14" height="3.76" rx="1.88" fill="#4c4c4c"/>
<rect x="136.08" y="312.37" width="24.12" height="3.76" rx="1.88" fill="#4c4c4c"/>
</g></g></g>
<rect x="60.9" y="308.6" width="100.9" height="13.4" fill="none" stroke="#3a3a3a" stroke-width="0.7"/>
<clipPath id="cb324"><rect x="60.9" y="324.4" width="100.9" height="13.9"/></clipPath>
<g clip-path="url(#cb324)"><g filter="url(#blotn)"><rect x="60" y="323.4" width="103" height="15.9" fill="#c8c8c8"/>
<g filter="url(#bl1)">
<rect x="62.51" y="328.19" width="22.54" height="7.32" rx="2.50" fill="#030303"/>
<rect x="87.83" y="327.80" width="22.54" height="7.32" rx="2.50" fill="#030303"/>
<rect x="112.94" y="328.59" width="21.55" height="5.73" rx="2.50" fill="#060606"/>
<rect x="138.65" y="328.39" width="20.57" height="5.93" rx="2.50" fill="#060606"/>
</g></g></g>
<rect x="60.9" y="324.4" width="100.9" height="13.9" fill="none" stroke="#3a3a3a" stroke-width="0.7"/>
<text transform="translate(2.60 16.60) scale(1 1.04)" font-size="21.3" font-weight="bold" fill="#000">A</text>
<text transform="translate(147.00 17.50) scale(1 1.04)" font-size="21.3" font-weight="bold" fill="#000">B</text>
<text transform="translate(276.50 16.90) scale(1 1.04)" font-size="21.3" font-weight="bold" fill="#000">C</text>
<text transform="translate(428.30 17.80) scale(1 1.04)" font-size="21.3" font-weight="bold" fill="#000">D</text>
<text transform="translate(2.40 216.80) scale(1 1.04)" font-size="21.3" font-weight="bold" fill="#000">E</text>
<text transform="translate(397.70 217.70) scale(1 1.04)" font-size="21.3" font-weight="bold" fill="#000">F</text>
<text transform="translate(1.00 419.00) scale(1 1.04)" font-size="21.3" font-weight="bold" fill="#000">G</text>
<text transform="translate(370.50 423.80) scale(1 1.04)" font-size="21.3" font-weight="bold" fill="#000">H</text>
<rect x="220.00" y="88.90" width="18.30" height="46.40" fill="#bcbcfb" stroke="#3a3a3a" stroke-width="0.9"/>
<rect x="247.50" y="71.00" width="18.30" height="64.30" fill="#fcdcdc" stroke="#3a3a3a" stroke-width="0.9"/>
<line x1="205.50" y1="135.30" x2="275.00" y2="135.30" stroke="#333" stroke-width="0.9"/>
<line x1="210.30" y1="24.00" x2="210.30" y2="135.70" stroke="#333" stroke-width="0.9"/>
<line x1="205.80" y1="135.30" x2="210.30" y2="135.30" stroke="#333" stroke-width="0.9"/>
<text x="204.30" y="139.26" font-size="11" text-anchor="end" fill="#111" stroke="#111" stroke-width="0.28">0</text>
<line x1="205.80" y1="113.12" x2="210.30" y2="113.12" stroke="#333" stroke-width="0.9"/>
<text x="204.30" y="117.08" font-size="11" text-anchor="end" fill="#111" stroke="#111" stroke-width="0.28">20</text>
<line x1="205.80" y1="90.94" x2="210.30" y2="90.94" stroke="#333" stroke-width="0.9"/>
<text x="204.30" y="94.90" font-size="11" text-anchor="end" fill="#111" stroke="#111" stroke-width="0.28">40</text>
<line x1="205.80" y1="68.76" x2="210.30" y2="68.76" stroke="#333" stroke-width="0.9"/>
<text x="204.30" y="72.72" font-size="11" text-anchor="end" fill="#111" stroke="#111" stroke-width="0.28">60</text>
<line x1="205.80" y1="46.58" x2="210.30" y2="46.58" stroke="#333" stroke-width="0.9"/>
<text x="204.30" y="50.54" font-size="11" text-anchor="end" fill="#111" stroke="#111" stroke-width="0.28">80</text>
<line x1="205.80" y1="24.40" x2="210.30" y2="24.40" stroke="#333" stroke-width="0.9"/>
<text x="204.30" y="28.36" font-size="11" text-anchor="end" fill="#111" stroke="#111" stroke-width="0.28">100</text>
<line x1="228.90" y1="85.60" x2="228.90" y2="91.60" stroke="#333" stroke-width="0.8"/>
<line x1="224.40" y1="85.60" x2="233.40" y2="85.60" stroke="#333" stroke-width="0.8"/>
<line x1="224.40" y1="91.60" x2="233.40" y2="91.60" stroke="#333" stroke-width="0.8"/>
<line x1="256.60" y1="65.40" x2="256.60" y2="76.50" stroke="#333" stroke-width="0.8"/>
<line x1="252.10" y1="65.40" x2="261.10" y2="65.40" stroke="#333" stroke-width="0.8"/>
<line x1="252.10" y1="76.50" x2="261.10" y2="76.50" stroke="#333" stroke-width="0.8"/>
<path d="M228.60 49.80V44.60H256.60V49.80" fill="none" stroke="#333" stroke-width="0.8"/>
<text x="243.60" y="45.00" font-size="13" text-anchor="middle" fill="#111" stroke="#111" stroke-width="0.28">**</text>
<text x="178.01" y="79.50" font-size="14.2" text-anchor="middle" transform="rotate(-90 178.01 79.50)" fill="#111" stroke="#111" stroke-width="0.28">Number of mitochondria</text>
<text x="234.50" y="145.50" font-size="14.3" text-anchor="end" font-style="italic" transform="rotate(-45 234.50 145.50)" fill="#111" stroke="#111" stroke-width="0.28">Plin5<tspan font-size="8.87" dy="-4.72">+/+</tspan></text>
<text x="264.00" y="145.50" font-size="14.3" text-anchor="end" font-style="italic" transform="rotate(-45 264.00 145.50)" fill="#111" stroke="#111" stroke-width="0.28">Plin5<tspan font-size="8.87" dy="-4.72">-/-</tspan></text>
<path d="M223.70 88.50L225.70 88.50L224.70 86.50Z" fill="#fff" stroke="#222" stroke-width="0.5"/>
<path d="M227.80 86.30L229.80 86.30L228.80 84.30Z" fill="#222" stroke="#222" stroke-width="0.5"/>
<circle cx="233.30" cy="89.90" r="1.0" fill="#fff" stroke="#222" stroke-width="0.5"/>
<rect x="227.90" y="91.30" width="1.8" height="1.8" fill="#222" stroke="#222" stroke-width="0.5"/>
<circle cx="261.30" cy="65.40" r="1.1" fill="#fff" stroke="#222" stroke-width="0.5"/>
<rect x="255.70" y="66.50" width="1.8" height="1.8" fill="#fff" stroke="#222" stroke-width="0.5"/>
<circle cx="256.60" cy="72.40" r="1.0" fill="#fff" stroke="#222" stroke-width="0.5"/>
<rect x="255.70" y="77.10" width="1.8" height="1.8" fill="#fff" stroke="#222" stroke-width="0.5"/>
<rect x="356.20" y="87.20" width="17.60" height="48.70" fill="#bcbcfb" stroke="#3a3a3a" stroke-width="0.9"/>
<rect x="383.40" y="73.20" width="17.90" height="62.70" fill="#fcdcdc" stroke="#3a3a3a" stroke-width="0.9"/>
<line x1="342.00" y1="135.90" x2="410.60" y2="135.90" stroke="#333" stroke-width="0.9"/>
<line x1="346.40" y1="25.30" x2="346.40" y2="136.30" stroke="#333" stroke-width="0.9"/>
<line x1="341.90" y1="135.90" x2="346.40" y2="135.90" stroke="#333" stroke-width="0.9"/>
<text x="340.40" y="139.86" font-size="11" text-anchor="end" fill="#111" stroke="#111" stroke-width="0.28">0</text>
<line x1="341.90" y1="117.54" x2="346.40" y2="117.54" stroke="#333" stroke-width="0.9"/>
<text x="340.40" y="121.50" font-size="11" text-anchor="end" fill="#111" stroke="#111" stroke-width="0.28">300</text>
<line x1="341.90" y1="99.18" x2="346.40" y2="99.18" stroke="#333" stroke-width="0.9"/>
<text x="340.40" y="103.14" font-size="11" text-anchor="end" fill="#111" stroke="#111" stroke-width="0.28">600</text>
<line x1="341.90" y1="80.82" x2="346.40" y2="80.82" stroke="#333" stroke-width="0.9"/>
<text x="340.40" y="84.78" font-size="11" text-anchor="end" fill="#111" stroke="#111" stroke-width="0.28">900</text>
<line x1="341.90" y1="62.46" x2="346.40" y2="62.46" stroke="#333" stroke-width="0.9"/>
<text x="340.40" y="66.42" font-size="11" text-anchor="end" fill="#111" stroke="#111" stroke-width="0.28">1200</text>
<line x1="341.90" y1="44.10" x2="346.40" y2="44.10" stroke="#333" stroke-width="0.9"/>
<text x="340.40" y="48.06" font-size="11" text-anchor="end" fill="#111" stroke="#111" stroke-width="0.28">1500</text>
<line x1="341.90" y1="25.74" x2="346.40" y2="25.74" stroke="#333" stroke-width="0.9"/>
<text x="340.40" y="29.70" font-size="11" text-anchor="end" fill="#111" stroke="#111" stroke-width="0.28">1800</text>
<line x1="364.80" y1="79.50" x2="364.80" y2="90.10" stroke="#333" stroke-width="0.8"/>
<line x1="360.30" y1="79.50" x2="369.30" y2="79.50" stroke="#333" stroke-width="0.8"/>
<line x1="360.30" y1="90.10" x2="369.30" y2="90.10" stroke="#333" stroke-width="0.8"/>
<line x1="392.30" y1="63.40" x2="392.30" y2="77.10" stroke="#333" stroke-width="0.8"/>
<line x1="387.80" y1="63.40" x2="396.80" y2="63.40" stroke="#333" stroke-width="0.8"/>
<line x1="387.80" y1="77.10" x2="396.80" y2="77.10" stroke="#333" stroke-width="0.8"/>
<path d="M364.80 51.10V45.90H392.40V51.10" fill="none" stroke="#333" stroke-width="0.8"/>
<text x="379.60" y="46.30" font-size="13" text-anchor="middle" fill="#111" stroke="#111" stroke-width="0.28">*</text>
<text x="311.41" y="80.80" font-size="14.2" text-anchor="middle" transform="rotate(-90 311.41 80.80)" fill="#111" stroke="#111" stroke-width="0.28">Relative mtDNA contents</text>
<text x="371.00" y="147.40" font-size="14.3" text-anchor="end" font-style="italic" transform="rotate(-45 371.00 147.40)" fill="#111" stroke="#111" stroke-width="0.28">Plin5<tspan font-size="8.87" dy="-4.72">+/+</tspan></text>
<text x="398.40" y="147.20" font-size="14.3" text-anchor="end" font-style="italic" transform="rotate(-45 398.40 147.20)" fill="#111" stroke="#111" stroke-width="0.28">Plin5<tspan font-size="8.87" dy="-4.72">-/-</tspan></text>
<path d="M359.10 82.80L361.10 82.80L360.10 80.80Z" fill="#fff" stroke="#222" stroke-width="0.5"/>
<circle cx="364.80" cy="83.00" r="1.0" fill="#222" stroke="#222" stroke-width="0.5"/>
<rect x="363.90" y="89.80" width="1.8" height="1.8" fill="#222" stroke="#222" stroke-width="0.5"/>
<rect x="391.30" y="66.10" width="1.8" height="1.8" fill="#fff" stroke="#222" stroke-width="0.5"/>
<rect x="395.50" y="65.40" width="1.8" height="1.8" fill="#fff" stroke="#222" stroke-width="0.5"/>
<rect x="391.40" y="77.30" width="1.8" height="1.8" fill="#fff" stroke="#222" stroke-width="0.5"/>
<line x1="627.40" y1="142.50" x2="708.00" y2="142.50" stroke="#333" stroke-width="0.9"/>
<rect x="637.30" y="106.00" width="11.90" height="36.50" fill="#bcbcfb" stroke="#3a3a3a" stroke-width="0.9"/>
<rect x="650.40" y="87.30" width="11.90" height="55.20" fill="#fcdcdc" stroke="#3a3a3a" stroke-width="0.9"/>
<rect x="676.00" y="76.70" width="11.90" height="65.80" fill="#bcbcfb" stroke="#3a3a3a" stroke-width="0.9"/>
<rect x="689.00" y="61.90" width="11.80" height="80.60" fill="#fcdcdc" stroke="#3a3a3a" stroke-width="0.9"/>
<line x1="632.20" y1="32.20" x2="632.20" y2="142.90" stroke="#333" stroke-width="0.9"/>
<line x1="627.70" y1="142.50" x2="632.20" y2="142.50" stroke="#333" stroke-width="0.9"/>
<text x="626.20" y="146.82" font-size="12" text-anchor="end" fill="#111" stroke="#111" stroke-width="0.28">0</text>
<line x1="627.70" y1="105.87" x2="632.20" y2="105.87" stroke="#333" stroke-width="0.9"/>
<text x="626.20" y="110.19" font-size="12" text-anchor="end" fill="#111" stroke="#111" stroke-width="0.28">1</text>
<line x1="627.70" y1="69.24" x2="632.20" y2="69.24" stroke="#333" stroke-width="0.9"/>
<text x="626.20" y="73.56" font-size="12" text-anchor="end" fill="#111" stroke="#111" stroke-width="0.28">2</text>
<line x1="627.70" y1="32.61" x2="632.20" y2="32.61" stroke="#333" stroke-width="0.9"/>
<text x="626.20" y="36.93" font-size="12" text-anchor="end" fill="#111" stroke="#111" stroke-width="0.28">3</text>
<line x1="650.00" y1="142.50" x2="650.00" y2="146.30" stroke="#333" stroke-width="0.9"/>
<line x1="688.40" y1="142.50" x2="688.40" y2="146.30" stroke="#333" stroke-width="0.9"/>
<line x1="643.50" y1="101.40" x2="643.50" y2="106.00" stroke="#333" stroke-width="0.8"/>
<line x1="640.50" y1="101.40" x2="646.50" y2="101.40" stroke="#333" stroke-width="0.8"/>
<line x1="656.50" y1="83.30" x2="656.50" y2="87.30" stroke="#333" stroke-width="0.8"/>
<line x1="653.50" y1="83.30" x2="659.50" y2="83.30" stroke="#333" stroke-width="0.8"/>
<line x1="681.70" y1="69.40" x2="681.70" y2="76.70" stroke="#333" stroke-width="0.8"/>
<line x1="678.70" y1="69.40" x2="684.70" y2="69.40" stroke="#333" stroke-width="0.8"/>
<line x1="694.80" y1="53.20" x2="694.80" y2="61.90" stroke="#333" stroke-width="0.8"/>
<line x1="691.80" y1="53.20" x2="697.80" y2="53.20" stroke="#333" stroke-width="0.8"/>
<path d="M643.60 80.00V75.80H656.80V80.00" fill="none" stroke="#333" stroke-width="0.8"/>
<text x="651.20" y="76.20" font-size="13" text-anchor="middle" fill="#111" stroke="#111" stroke-width="0.28">**</text>
<path d="M683.20 50.70V46.50H695.40V50.70" fill="none" stroke="#333" stroke-width="0.8"/>
<text x="690.30" y="46.90" font-size="13" text-anchor="middle" fill="#111" stroke="#111" stroke-width="0.28">**</text>
<rect x="638.50" y="9.50" width="5.40" height="5.40" fill="#bcbcfb" stroke="#2a2a2a" stroke-width="0.9"/>
<text x="648.60" y="15.30" font-size="14.3" text-anchor="start" font-style="italic" fill="#111" stroke="#111" stroke-width="0.28">Plin5<tspan font-size="8.87" dy="-4.72">+/+</tspan></text>
<rect x="638.50" y="23.60" width="5.40" height="5.40" fill="#fcdcdc" stroke="#2a2a2a" stroke-width="0.9"/>
<text x="648.60" y="31.10" font-size="14.3" text-anchor="start" font-style="italic" fill="#111" stroke="#111" stroke-width="0.28">Plin5<tspan font-size="8.87" dy="-4.72">-/-</tspan></text>
<text x="598.11" y="84.90" font-size="14.2" text-anchor="middle" transform="rotate(-90 598.11 84.90)" fill="#111" stroke="#111" stroke-width="0.28">Relative fluorescence</text>
<text x="615.11" y="85.50" font-size="14.2" text-anchor="middle" transform="rotate(-90 615.11 85.50)" fill="#111" stroke="#111" stroke-width="0.28">intensity</text>
<text x="648.40" y="163.00" font-size="14.3" text-anchor="middle" fill="#111" stroke="#111" stroke-width="0.28">-FA</text>
<text x="689.30" y="163.00" font-size="14.3" text-anchor="middle" fill="#111" stroke="#111" stroke-width="0.28">+FA</text>
<text x="476.30" y="20.60" font-size="14.3" text-anchor="start" font-style="italic" fill="#111" stroke="#111" stroke-width="0.28">Plin5<tspan font-size="8.87" dy="-4.72">+/+</tspan></text>
<text x="538.60" y="20.60" font-size="14.3" text-anchor="start" font-style="italic" fill="#111" stroke="#111" stroke-width="0.28">Plin5<tspan font-size="8.87" dy="-4.72">-/-</tspan></text>
<text x="457.30" y="59.50" font-size="13.5" text-anchor="middle" transform="rotate(-90 457.30 59.50)" fill="#111" stroke="#111" stroke-width="0.28">-FA</text>
<text x="457.30" y="115.50" font-size="13.5" text-anchor="middle" transform="rotate(-90 457.30 115.50)" fill="#111" stroke="#111" stroke-width="0.28">+FA</text>
<line x1="252.30" y1="336.10" x2="358.20" y2="336.10" stroke="#333" stroke-width="0.9"/>
<rect x="262.30" y="284.10" width="10.20" height="52.00" fill="#dcdcdc" stroke="#3a3a3a" stroke-width="0.9"/>
<line x1="267.40" y1="281.00" x2="267.40" y2="284.10" stroke="#333" stroke-width="0.8"/>
<line x1="264.40" y1="281.00" x2="270.40" y2="281.00" stroke="#333" stroke-width="0.8"/>
<rect x="274.00" y="263.00" width="10.00" height="73.10" fill="#5a5a5a" stroke="#3a3a3a" stroke-width="0.9"/>
<line x1="279.00" y1="256.00" x2="279.00" y2="263.00" stroke="#333" stroke-width="0.8"/>
<line x1="276.00" y1="256.00" x2="282.00" y2="256.00" stroke="#333" stroke-width="0.8"/>
<rect x="296.50" y="284.10" width="10.30" height="52.00" fill="#dcdcdc" stroke="#3a3a3a" stroke-width="0.9"/>
<line x1="301.65" y1="280.30" x2="301.65" y2="284.10" stroke="#333" stroke-width="0.8"/>
<line x1="298.65" y1="280.30" x2="304.65" y2="280.30" stroke="#333" stroke-width="0.8"/>
<rect x="308.30" y="272.30" width="10.00" height="63.80" fill="#5a5a5a" stroke="#3a3a3a" stroke-width="0.9"/>
<line x1="313.30" y1="267.00" x2="313.30" y2="272.30" stroke="#333" stroke-width="0.8"/>
<line x1="310.30" y1="267.00" x2="316.30" y2="267.00" stroke="#333" stroke-width="0.8"/>
<rect x="330.80" y="284.10" width="10.20" height="52.00" fill="#dcdcdc" stroke="#3a3a3a" stroke-width="0.9"/>
<line x1="335.90" y1="280.30" x2="335.90" y2="284.10" stroke="#333" stroke-width="0.8"/>
<line x1="332.90" y1="280.30" x2="338.90" y2="280.30" stroke="#333" stroke-width="0.8"/>
<rect x="342.60" y="269.10" width="10.00" height="67.00" fill="#5a5a5a" stroke="#3a3a3a" stroke-width="0.9"/>
<line x1="347.60" y1="261.70" x2="347.60" y2="269.10" stroke="#333" stroke-width="0.8"/>
<line x1="344.60" y1="261.70" x2="350.60" y2="261.70" stroke="#333" stroke-width="0.8"/>
<line x1="257.00" y1="231.70" x2="257.00" y2="336.50" stroke="#333" stroke-width="0.9"/>
<line x1="252.50" y1="336.10" x2="257.00" y2="336.10" stroke="#333" stroke-width="0.9"/>
<text x="251.00" y="340.42" font-size="12" text-anchor="end" fill="#111" stroke="#111" stroke-width="0.28">0.0</text>
<line x1="252.50" y1="310.10" x2="257.00" y2="310.10" stroke="#333" stroke-width="0.9"/>
<text x="251.00" y="314.42" font-size="12" text-anchor="end" fill="#111" stroke="#111" stroke-width="0.28">0.5</text>
<line x1="252.50" y1="284.10" x2="257.00" y2="284.10" stroke="#333" stroke-width="0.9"/>
<text x="251.00" y="288.42" font-size="12" text-anchor="end" fill="#111" stroke="#111" stroke-width="0.28">1.0</text>
<line x1="252.50" y1="258.10" x2="257.00" y2="258.10" stroke="#333" stroke-width="0.9"/>
<text x="251.00" y="262.42" font-size="12" text-anchor="end" fill="#111" stroke="#111" stroke-width="0.28">1.5</text>
<line x1="252.50" y1="232.10" x2="257.00" y2="232.10" stroke="#333" stroke-width="0.9"/>
<text x="251.00" y="236.42" font-size="12" text-anchor="end" fill="#111" stroke="#111" stroke-width="0.28">2.0</text>
<line x1="272.50" y1="336.10" x2="272.50" y2="340.80" stroke="#333" stroke-width="0.9"/>
<line x1="306.80" y1="336.10" x2="306.80" y2="340.80" stroke="#333" stroke-width="0.9"/>
<line x1="341.00" y1="336.10" x2="341.00" y2="340.80" stroke="#333" stroke-width="0.9"/>
<path d="M269.00 251.40V247.80H279.20V251.40" fill="none" stroke="#333" stroke-width="0.8"/>
<text x="275.10" y="248.20" font-size="13" text-anchor="middle" fill="#111" stroke="#111" stroke-width="0.28">**</text>
<path d="M302.00 261.40V257.60H313.30V261.40" fill="none" stroke="#333" stroke-width="0.8"/>
<text x="308.65" y="258.00" font-size="13" text-anchor="middle" fill="#111" stroke="#111" stroke-width="0.28">*</text>
<path d="M336.40 257.20V253.60H347.60V257.20" fill="none" stroke="#333" stroke-width="0.8"/>
<text x="343.00" y="254.00" font-size="13" text-anchor="middle" fill="#111" stroke="#111" stroke-width="0.28">*</text>
<rect x="301.50" y="214.60" width="6.80" height="3.60" fill="#dcdcdc" stroke="#3a3a3a" stroke-width="0.7"/>
<text x="312.40" y="221.20" font-size="12.4" text-anchor="start" font-style="italic" fill="#111" stroke="#111" stroke-width="0.28">Plin5<tspan font-size="7.69" dy="-4.09">+/+</tspan></text>
<rect x="301.50" y="229.80" width="6.80" height="3.80" fill="#5a5a5a" stroke="#3a3a3a" stroke-width="0.7"/>
<text x="312.40" y="236.40" font-size="12.4" text-anchor="start" font-style="italic" fill="#111" stroke="#111" stroke-width="0.28">Plin5<tspan font-size="7.69" dy="-4.09">-/-</tspan></text>
<text x="207.91" y="274.60" font-size="14.2" text-anchor="middle" transform="rotate(-90 207.91 274.60)" fill="#111" stroke="#111" stroke-width="0.28">Relative density</text>
<text x="226.13" y="273.80" font-size="14.8" text-anchor="middle" transform="rotate(-90 226.13 273.80)" fill="#111" stroke="#111" stroke-width="0.28">(folds)</text>
<text x="277.30" y="348.20" font-size="14.5" text-anchor="end" transform="rotate(-45 277.30 348.20)" fill="#111" stroke="#111" stroke-width="0.28">PGC-1α</text>
<text x="312.00" y="348.20" font-size="14.5" text-anchor="end" transform="rotate(-45 312.00 348.20)" fill="#111" stroke="#111" stroke-width="0.28">CPT1</text>
<text x="346.70" y="349.00" font-size="14.5" text-anchor="end" transform="rotate(-45 346.70 349.00)" fill="#111" stroke="#111" stroke-width="0.28">CPT2</text>
<text x="53.70" y="272.90" font-size="14" text-anchor="end" fill="#111" stroke="#111" stroke-width="0.28">Plin5</text>
<text x="53.70" y="287.40" font-size="14" text-anchor="end" fill="#111" stroke="#111" stroke-width="0.28">PGC-1α</text>
<text x="53.70" y="303.50" font-size="14" text-anchor="end" fill="#111" stroke="#111" stroke-width="0.28">CPT1</text>
<text x="53.70" y="319.30" font-size="14" text-anchor="end" fill="#111" stroke="#111" stroke-width="0.28">CPT2</text>
<text x="53.70" y="336.00" font-size="14" text-anchor="end" fill="#111" stroke="#111" stroke-width="0.28">β-actin</text>
<text x="66.20" y="250.80" font-size="13.8" text-anchor="start" font-style="italic" fill="#111" stroke="#111" stroke-width="0.28">Plin5<tspan font-size="8.56" dy="-4.55">+/+</tspan></text>
<text x="119.80" y="250.80" font-size="13.8" text-anchor="start" font-style="italic" fill="#111" stroke="#111" stroke-width="0.28">Plin5<tspan font-size="8.56" dy="-4.55">-/-</tspan></text>
<line x1="61.60" y1="255.60" x2="108.80" y2="255.60" stroke="#222" stroke-width="0.9"/>
<line x1="113.60" y1="255.60" x2="161.60" y2="255.60" stroke="#222" stroke-width="0.9"/>
<text x="166.70" y="255.00" font-size="9" text-anchor="start" fill="#111" stroke="#111" stroke-width="0.28">kDa</text>
<text x="166.70" y="271.80" font-size="9.2" text-anchor="start" fill="#111" stroke="#111" stroke-width="0.28">55</text>
<text x="166.70" y="287.80" font-size="9.2" text-anchor="start" fill="#111" stroke="#111" stroke-width="0.28">100</text>
<text x="166.70" y="303.20" font-size="9.2" text-anchor="start" fill="#111" stroke="#111" stroke-width="0.28">88</text>
<text x="166.70" y="318.60" font-size="9.2" text-anchor="start" fill="#111" stroke="#111" stroke-width="0.28">70</text>
<text x="166.70" y="334.60" font-size="9.2" text-anchor="start" fill="#111" stroke="#111" stroke-width="0.28">43</text>
<rect x="495.80" y="296.30" width="20.00" height="35.70" fill="#bcbcfb" stroke="#3a3a3a" stroke-width="0.9"/>
<rect x="526.40" y="283.60" width="20.40" height="48.40" fill="#fcdcdc" stroke="#3a3a3a" stroke-width="0.9"/>
<line x1="479.40" y1="332.00" x2="557.20" y2="332.00" stroke="#333" stroke-width="0.9"/>
<line x1="483.40" y1="222.60" x2="483.40" y2="332.40" stroke="#333" stroke-width="0.9"/>
<line x1="478.90" y1="332.00" x2="483.40" y2="332.00" stroke="#333" stroke-width="0.9"/>
<text x="477.40" y="335.96" font-size="11" text-anchor="end" fill="#111" stroke="#111" stroke-width="0.28">100</text>
<line x1="478.90" y1="304.75" x2="483.40" y2="304.75" stroke="#333" stroke-width="0.9"/>
<text x="477.40" y="308.71" font-size="11" text-anchor="end" fill="#111" stroke="#111" stroke-width="0.28">150</text>
<line x1="478.90" y1="277.50" x2="483.40" y2="277.50" stroke="#333" stroke-width="0.9"/>
<text x="477.40" y="281.46" font-size="11" text-anchor="end" fill="#111" stroke="#111" stroke-width="0.28">200</text>
<line x1="478.90" y1="250.25" x2="483.40" y2="250.25" stroke="#333" stroke-width="0.9"/>
<text x="477.40" y="254.21" font-size="11" text-anchor="end" fill="#111" stroke="#111" stroke-width="0.28">250</text>
<line x1="478.90" y1="223.00" x2="483.40" y2="223.00" stroke="#333" stroke-width="0.9"/>
<text x="477.40" y="226.96" font-size="11" text-anchor="end" fill="#111" stroke="#111" stroke-width="0.28">300</text>
<line x1="505.80" y1="293.50" x2="505.80" y2="298.70" stroke="#333" stroke-width="0.8"/>
<line x1="500.80" y1="293.50" x2="510.80" y2="293.50" stroke="#333" stroke-width="0.8"/>
<line x1="500.80" y1="298.70" x2="510.80" y2="298.70" stroke="#333" stroke-width="0.8"/>
<line x1="536.40" y1="281.40" x2="536.40" y2="285.60" stroke="#333" stroke-width="0.8"/>
<line x1="531.40" y1="281.40" x2="541.40" y2="281.40" stroke="#333" stroke-width="0.8"/>
<line x1="531.40" y1="285.60" x2="541.40" y2="285.60" stroke="#333" stroke-width="0.8"/>
<path d="M507.40 253.20V248.50H536.00V253.20" fill="none" stroke="#333" stroke-width="0.8"/>
<text x="522.70" y="248.90" font-size="13" text-anchor="middle" fill="#111" stroke="#111" stroke-width="0.28">**</text>
<text x="430.71" y="294.20" font-size="14.2" text-anchor="middle" transform="rotate(-90 430.71 294.20)" fill="#111" stroke="#111" stroke-width="0.28">NADH levels in</text>
<text x="448.71" y="293.00" font-size="14.2" text-anchor="middle" transform="rotate(-90 448.71 293.00)" fill="#111" stroke="#111" stroke-width="0.28">myocardium (nmol/mg protein)</text>
<text x="517.00" y="342.00" font-size="14.3" text-anchor="end" font-style="italic" transform="rotate(-45 517.00 342.00)" fill="#111" stroke="#111" stroke-width="0.28">Plin5<tspan font-size="8.87" dy="-4.72">+/+</tspan></text>
<text x="545.00" y="343.30" font-size="14.3" text-anchor="end" font-style="italic" transform="rotate(-45 545.00 343.30)" fill="#111" stroke="#111" stroke-width="0.28">Plin5<tspan font-size="8.87" dy="-4.72">-/-</tspan></text>
<path d="M504.80 296.40L506.80 296.40L505.80 294.40Z" fill="#222" stroke="#222" stroke-width="0.5"/>
<path d="M509.40 295.00L511.20 295.00L510.30 293.20Z" fill="#fff" stroke="#222" stroke-width="0.5"/>
<circle cx="505.80" cy="299.80" r="1.0" fill="#222" stroke="#222" stroke-width="0.5"/>
<rect x="539.90" y="280.10" width="1.8" height="1.8" fill="#fff" stroke="#222" stroke-width="0.5"/>
<circle cx="536.40" cy="284.00" r="1.0" fill="#222" stroke="#222" stroke-width="0.5"/>
<circle cx="536.40" cy="286.20" r="1.0" fill="#222" stroke="#222" stroke-width="0.5"/>
<rect x="636.20" y="276.50" width="20.10" height="56.50" fill="#bcbcfb" stroke="#3a3a3a" stroke-width="0.9"/>
<rect x="666.80" y="290.50" width="20.30" height="42.50" fill="#fcdcdc" stroke="#3a3a3a" stroke-width="0.9"/>
<line x1="620.00" y1="333.00" x2="696.50" y2="333.00" stroke="#333" stroke-width="0.9"/>
<line x1="624.80" y1="224.80" x2="624.80" y2="333.40" stroke="#333" stroke-width="0.9"/>
<line x1="620.30" y1="333.00" x2="624.80" y2="333.00" stroke="#333" stroke-width="0.9"/>
<text x="618.80" y="336.96" font-size="11" text-anchor="end" fill="#111" stroke="#111" stroke-width="0.28">0</text>
<line x1="620.30" y1="306.00" x2="624.80" y2="306.00" stroke="#333" stroke-width="0.9"/>
<text x="618.80" y="309.96" font-size="11" text-anchor="end" fill="#111" stroke="#111" stroke-width="0.28">0.5</text>
<line x1="620.30" y1="279.00" x2="624.80" y2="279.00" stroke="#333" stroke-width="0.9"/>
<text x="618.80" y="282.96" font-size="11" text-anchor="end" fill="#111" stroke="#111" stroke-width="0.28">1.0</text>
<line x1="620.30" y1="252.00" x2="624.80" y2="252.00" stroke="#333" stroke-width="0.9"/>
<text x="618.80" y="255.96" font-size="11" text-anchor="end" fill="#111" stroke="#111" stroke-width="0.28">1.5</text>
<line x1="620.30" y1="225.00" x2="624.80" y2="225.00" stroke="#333" stroke-width="0.9"/>
<text x="618.80" y="228.96" font-size="11" text-anchor="end" fill="#111" stroke="#111" stroke-width="0.28">2.0</text>
<line x1="646.20" y1="271.40" x2="646.20" y2="280.30" stroke="#333" stroke-width="0.8"/>
<line x1="641.20" y1="271.40" x2="651.20" y2="271.40" stroke="#333" stroke-width="0.8"/>
<line x1="641.20" y1="280.30" x2="651.20" y2="280.30" stroke="#333" stroke-width="0.8"/>
<line x1="676.80" y1="286.30" x2="676.80" y2="293.50" stroke="#333" stroke-width="0.8"/>
<line x1="671.80" y1="286.30" x2="681.80" y2="286.30" stroke="#333" stroke-width="0.8"/>
<line x1="671.80" y1="293.50" x2="681.80" y2="293.50" stroke="#333" stroke-width="0.8"/>
<path d="M646.60 253.40V248.90H674.60V253.40" fill="none" stroke="#333" stroke-width="0.8"/>
<text x="661.60" y="249.30" font-size="13" text-anchor="middle" fill="#111" stroke="#111" stroke-width="0.28">**</text>
<text x="579.41" y="278.60" font-size="14.2" text-anchor="middle" transform="rotate(-90 579.41 278.60)" fill="#111" stroke="#111" stroke-width="0.28">NAD+/NADH ratio in</text>
<text x="597.11" y="277.60" font-size="14.2" text-anchor="middle" transform="rotate(-90 597.11 277.60)" fill="#111" stroke="#111" stroke-width="0.28">myocardium</text>
<text x="656.00" y="345.00" font-size="14.3" text-anchor="end" font-style="italic" transform="rotate(-45 656.00 345.00)" fill="#111" stroke="#111" stroke-width="0.28">Plin5<tspan font-size="8.87" dy="-4.72">+/+</tspan></text>
<text x="686.00" y="345.60" font-size="14.3" text-anchor="end" font-style="italic" transform="rotate(-45 686.00 345.60)" fill="#111" stroke="#111" stroke-width="0.28">Plin5<tspan font-size="8.87" dy="-4.72">-/-</tspan></text>
<path d="M645.10 275.90L647.30 275.90L646.20 273.70Z" fill="#222" stroke="#222" stroke-width="0.5"/>
<path d="M649.70 274.50L651.50 274.50L650.60 272.70Z" fill="#fff" stroke="#222" stroke-width="0.5"/>
<circle cx="646.20" cy="280.80" r="1.0" fill="#222" stroke="#222" stroke-width="0.5"/>
<circle cx="676.80" cy="286.30" r="1.0" fill="#fff" stroke="#222" stroke-width="0.5"/>
<circle cx="676.80" cy="290.50" r="1.0" fill="#222" stroke="#222" stroke-width="0.5"/>
<circle cx="676.80" cy="293.30" r="1.0" fill="#222" stroke="#222" stroke-width="0.5"/>
<line x1="63.70" y1="565.20" x2="164.50" y2="565.20" stroke="#333" stroke-width="0.9"/>
<rect x="74.70" y="524.40" width="12.30" height="40.80" fill="#bcbcfb" stroke="#3a3a3a" stroke-width="0.9"/>
<rect x="94.60" y="526.20" width="12.40" height="39.00" fill="#fcdcdc" stroke="#3a3a3a" stroke-width="0.9"/>
<rect x="126.30" y="510.40" width="12.40" height="54.80" fill="#bcbcfb" stroke="#3a3a3a" stroke-width="0.9"/>
<rect x="146.20" y="493.90" width="12.80" height="71.30" fill="#fcdcdc" stroke="#3a3a3a" stroke-width="0.9"/>
<line x1="68.10" y1="445.40" x2="68.10" y2="565.60" stroke="#333" stroke-width="0.9"/>
<line x1="63.60" y1="565.20" x2="68.10" y2="565.20" stroke="#333" stroke-width="0.9"/>
<text x="62.10" y="569.34" font-size="11.5" text-anchor="end" fill="#111" stroke="#111" stroke-width="0.28">0</text>
<line x1="63.60" y1="535.35" x2="68.10" y2="535.35" stroke="#333" stroke-width="0.9"/>
<text x="62.10" y="539.49" font-size="11.5" text-anchor="end" fill="#111" stroke="#111" stroke-width="0.28">50</text>
<line x1="63.60" y1="505.50" x2="68.10" y2="505.50" stroke="#333" stroke-width="0.9"/>
<text x="62.10" y="509.64" font-size="11.5" text-anchor="end" fill="#111" stroke="#111" stroke-width="0.28">100</text>
<line x1="63.60" y1="475.65" x2="68.10" y2="475.65" stroke="#333" stroke-width="0.9"/>
<text x="62.10" y="479.79" font-size="11.5" text-anchor="end" fill="#111" stroke="#111" stroke-width="0.28">150</text>
<line x1="63.60" y1="445.80" x2="68.10" y2="445.80" stroke="#333" stroke-width="0.9"/>
<text x="62.10" y="449.94" font-size="11.5" text-anchor="end" fill="#111" stroke="#111" stroke-width="0.28">200</text>
<line x1="91.20" y1="565.20" x2="91.20" y2="570.20" stroke="#333" stroke-width="0.9"/>
<line x1="142.80" y1="565.20" x2="142.80" y2="570.20" stroke="#333" stroke-width="0.9"/>
<line x1="80.85" y1="519.10" x2="80.85" y2="529.60" stroke="#333" stroke-width="0.8"/>
<line x1="77.60" y1="519.10" x2="84.10" y2="519.10" stroke="#333" stroke-width="0.8"/>
<line x1="77.60" y1="529.60" x2="84.10" y2="529.60" stroke="#333" stroke-width="0.8"/>
<path d="M79.85 521.90L81.85 521.90L80.85 519.90Z" fill="#222" stroke="#222" stroke-width="0.5"/>
<path d="M79.85 525.90L81.85 525.90L80.85 523.90Z" fill="#222" stroke="#222" stroke-width="0.5"/>
<path d="M79.85 529.00L81.85 529.00L80.85 527.00Z" fill="#222" stroke="#222" stroke-width="0.5"/>
<line x1="100.80" y1="522.70" x2="100.80" y2="529.60" stroke="#333" stroke-width="0.8"/>
<line x1="97.55" y1="522.70" x2="104.05" y2="522.70" stroke="#333" stroke-width="0.8"/>
<line x1="97.55" y1="529.60" x2="104.05" y2="529.60" stroke="#333" stroke-width="0.8"/>
<circle cx="100.80" cy="523.00" r="1.0" fill="#fff" stroke="#222" stroke-width="0.5"/>
<rect x="99.90" y="526.90" width="1.8" height="1.8" fill="#fff" stroke="#222" stroke-width="0.5"/>
<path d="M99.80 529.20L101.80 529.20L100.80 527.20Z" fill="#fff" stroke="#222" stroke-width="0.5"/>
<line x1="132.50" y1="507.60" x2="132.50" y2="513.80" stroke="#333" stroke-width="0.8"/>
<line x1="129.25" y1="507.60" x2="135.75" y2="507.60" stroke="#333" stroke-width="0.8"/>
<line x1="129.25" y1="513.80" x2="135.75" y2="513.80" stroke="#333" stroke-width="0.8"/>
<path d="M131.50 510.40L133.50 510.40L132.50 508.40Z" fill="#222" stroke="#222" stroke-width="0.5"/>
<path d="M131.50 511.90L133.50 511.90L132.50 509.90Z" fill="#222" stroke="#222" stroke-width="0.5"/>
<path d="M131.50 513.20L133.50 513.20L132.50 511.20Z" fill="#222" stroke="#222" stroke-width="0.5"/>
<line x1="152.60" y1="489.00" x2="152.60" y2="498.20" stroke="#333" stroke-width="0.8"/>
<line x1="149.35" y1="489.00" x2="155.85" y2="489.00" stroke="#333" stroke-width="0.8"/>
<line x1="149.35" y1="498.20" x2="155.85" y2="498.20" stroke="#333" stroke-width="0.8"/>
<circle cx="152.60" cy="489.30" r="1.0" fill="#fff" stroke="#222" stroke-width="0.5"/>
<rect x="151.70" y="494.60" width="1.8" height="1.8" fill="#fff" stroke="#222" stroke-width="0.5"/>
<path d="M151.60 497.80L153.60 497.80L152.60 495.80Z" fill="#fff" stroke="#222" stroke-width="0.5"/>
<path d="M81.30 516.80V512.30H99.80V516.80" fill="none" stroke="#333" stroke-width="0.8"/>
<text x="92.35" y="509.10" font-size="12" text-anchor="middle" fill="#111" stroke="#111" stroke-width="0.28">n.s</text>
<path d="M134.60 485.90V480.90H153.30V485.90" fill="none" stroke="#333" stroke-width="0.8"/>
<text x="144.95" y="481.30" font-size="13" text-anchor="middle" fill="#111" stroke="#111" stroke-width="0.28">**</text>
<text x="90.30" y="585.80" font-size="14.3" text-anchor="middle" fill="#111" stroke="#111" stroke-width="0.28">-FA</text>
<text x="142.30" y="585.80" font-size="14.3" text-anchor="middle" fill="#111" stroke="#111" stroke-width="0.28">+FA</text>
<rect x="75.00" y="428.70" width="5.40" height="5.40" fill="#bcbcfb" stroke="#2a2a2a" stroke-width="0.9"/>
<text x="85.00" y="435.40" font-size="14.3" text-anchor="start" font-style="italic" fill="#111" stroke="#111" stroke-width="0.28">Plin5<tspan font-size="8.87" dy="-4.72">+/+</tspan></text>
<rect x="75.00" y="444.80" width="5.40" height="5.40" fill="#fcdcdc" stroke="#2a2a2a" stroke-width="0.9"/>
<text x="85.00" y="452.40" font-size="14.3" text-anchor="start" font-style="italic" fill="#111" stroke="#111" stroke-width="0.28">Plin5<tspan font-size="8.87" dy="-4.72">-/-</tspan></text>
<text x="17.71" y="505.30" font-size="14.2" text-anchor="middle" transform="rotate(-90 17.71 505.30)" fill="#111" stroke="#111" stroke-width="0.28">NADH levels in primary</text>
<text x="34.11" y="504.00" font-size="14.2" text-anchor="middle" transform="rotate(-90 34.11 504.00)" fill="#111" stroke="#111" stroke-width="0.28">cardiomyocytes (nmol/mg protein)</text>
<line x1="229.20" y1="566.20" x2="329.00" y2="566.20" stroke="#333" stroke-width="0.9"/>
<rect x="240.20" y="472.30" width="12.80" height="93.90" fill="#bcbcfb" stroke="#3a3a3a" stroke-width="0.9"/>
<rect x="260.20" y="468.10" width="13.00" height="98.10" fill="#fcdcdc" stroke="#3a3a3a" stroke-width="0.9"/>
<rect x="292.20" y="500.80" width="12.80" height="65.40" fill="#bcbcfb" stroke="#3a3a3a" stroke-width="0.9"/>
<rect x="312.00" y="514.20" width="12.90" height="52.00" fill="#fcdcdc" stroke="#3a3a3a" stroke-width="0.9"/>
<line x1="233.70" y1="446.10" x2="233.70" y2="566.60" stroke="#333" stroke-width="0.9"/>
<line x1="229.20" y1="566.20" x2="233.70" y2="566.20" stroke="#333" stroke-width="0.9"/>
<text x="227.70" y="570.34" font-size="11.5" text-anchor="end" fill="#111" stroke="#111" stroke-width="0.28">0.0</text>
<line x1="229.20" y1="526.30" x2="233.70" y2="526.30" stroke="#333" stroke-width="0.9"/>
<text x="227.70" y="530.44" font-size="11.5" text-anchor="end" fill="#111" stroke="#111" stroke-width="0.28">0.5</text>
<line x1="229.20" y1="486.40" x2="233.70" y2="486.40" stroke="#333" stroke-width="0.9"/>
<text x="227.70" y="490.54" font-size="11.5" text-anchor="end" fill="#111" stroke="#111" stroke-width="0.28">1.0</text>
<line x1="229.20" y1="446.50" x2="233.70" y2="446.50" stroke="#333" stroke-width="0.9"/>
<text x="227.70" y="450.64" font-size="11.5" text-anchor="end" fill="#111" stroke="#111" stroke-width="0.28">1.5</text>
<line x1="256.70" y1="566.20" x2="256.70" y2="571.20" stroke="#333" stroke-width="0.9"/>
<line x1="307.60" y1="566.20" x2="307.60" y2="571.20" stroke="#333" stroke-width="0.9"/>
<line x1="246.60" y1="466.40" x2="246.60" y2="478.00" stroke="#333" stroke-width="0.8"/>
<line x1="243.35" y1="466.40" x2="249.85" y2="466.40" stroke="#333" stroke-width="0.8"/>
<line x1="243.35" y1="478.00" x2="249.85" y2="478.00" stroke="#333" stroke-width="0.8"/>
<path d="M245.60 469.20L247.60 469.20L246.60 467.20Z" fill="#222" stroke="#222" stroke-width="0.5"/>
<path d="M245.60 473.80L247.60 473.80L246.60 471.80Z" fill="#222" stroke="#222" stroke-width="0.5"/>
<path d="M245.60 477.40L247.60 477.40L246.60 475.40Z" fill="#222" stroke="#222" stroke-width="0.5"/>
<line x1="266.70" y1="462.60" x2="266.70" y2="473.00" stroke="#333" stroke-width="0.8"/>
<line x1="263.45" y1="462.60" x2="269.95" y2="462.60" stroke="#333" stroke-width="0.8"/>
<line x1="263.45" y1="473.00" x2="269.95" y2="473.00" stroke="#333" stroke-width="0.8"/>
<circle cx="266.70" cy="462.90" r="1.0" fill="#fff" stroke="#222" stroke-width="0.5"/>
<rect x="265.80" y="468.80" width="1.8" height="1.8" fill="#fff" stroke="#222" stroke-width="0.5"/>
<path d="M265.70 472.60L267.70 472.60L266.70 470.60Z" fill="#fff" stroke="#222" stroke-width="0.5"/>
<line x1="298.60" y1="497.00" x2="298.60" y2="505.00" stroke="#333" stroke-width="0.8"/>
<line x1="295.35" y1="497.00" x2="301.85" y2="497.00" stroke="#333" stroke-width="0.8"/>
<line x1="295.35" y1="505.00" x2="301.85" y2="505.00" stroke="#333" stroke-width="0.8"/>
<path d="M297.60 499.80L299.60 499.80L298.60 497.80Z" fill="#222" stroke="#222" stroke-width="0.5"/>
<path d="M297.60 502.30L299.60 502.30L298.60 500.30Z" fill="#222" stroke="#222" stroke-width="0.5"/>
<path d="M297.60 504.40L299.60 504.40L298.60 502.40Z" fill="#222" stroke="#222" stroke-width="0.5"/>
<line x1="318.45" y1="510.00" x2="318.45" y2="518.00" stroke="#333" stroke-width="0.8"/>
<line x1="315.20" y1="510.00" x2="321.70" y2="510.00" stroke="#333" stroke-width="0.8"/>
<line x1="315.20" y1="518.00" x2="321.70" y2="518.00" stroke="#333" stroke-width="0.8"/>
<circle cx="318.45" cy="510.30" r="1.0" fill="#fff" stroke="#222" stroke-width="0.5"/>
<rect x="317.55" y="514.90" width="1.8" height="1.8" fill="#fff" stroke="#222" stroke-width="0.5"/>
<path d="M317.45 517.60L319.45 517.60L318.45 515.60Z" fill="#fff" stroke="#222" stroke-width="0.5"/>
<path d="M246.40 460.00V455.00H266.70V460.00" fill="none" stroke="#333" stroke-width="0.8"/>
<text x="258.35" y="451.80" font-size="12" text-anchor="middle" fill="#111" stroke="#111" stroke-width="0.28">n.s</text>
<path d="M298.70 493.60V488.80H318.30V493.60" fill="none" stroke="#333" stroke-width="0.8"/>
<text x="309.50" y="489.20" font-size="13" text-anchor="middle" fill="#111" stroke="#111" stroke-width="0.28">*</text>
<text x="257.20" y="584.00" font-size="14.3" text-anchor="middle" fill="#111" stroke="#111" stroke-width="0.28">-FA</text>
<text x="309.80" y="584.00" font-size="14.3" text-anchor="middle" fill="#111" stroke="#111" stroke-width="0.28">+FA</text>
<rect x="289.40" y="427.50" width="5.40" height="5.40" fill="#bcbcfb" stroke="#2a2a2a" stroke-width="0.9"/>
<text x="299.70" y="434.40" font-size="14.3" text-anchor="start" font-style="italic" fill="#111" stroke="#111" stroke-width="0.28">Plin5<tspan font-size="8.87" dy="-4.72">+/+</tspan></text>
<rect x="289.40" y="443.70" width="5.40" height="5.40" fill="#fcdcdc" stroke="#2a2a2a" stroke-width="0.9"/>
<text x="299.70" y="451.60" font-size="14.3" text-anchor="start" font-style="italic" fill="#111" stroke="#111" stroke-width="0.28">Plin5<tspan font-size="8.87" dy="-4.72">-/-</tspan></text>
<text x="187.31" y="504.00" font-size="14.2" text-anchor="middle" transform="rotate(-90 187.31 504.00)" fill="#111" stroke="#111" stroke-width="0.28">NAD+/NADH ratio in</text>
<text x="204.91" y="500.60" font-size="14.2" text-anchor="middle" transform="rotate(-90 204.91 500.60)" fill="#111" stroke="#111" stroke-width="0.28">primary cardiomyocytes</text>
<line x1="440.20" y1="565.20" x2="543.20" y2="565.20" stroke="#333" stroke-width="0.9"/>
<rect x="450.50" y="521.20" width="12.40" height="44.00" fill="#bcbcfb" stroke="#3a3a3a" stroke-width="0.9"/>
<rect x="470.50" y="523.20" width="12.70" height="42.00" fill="#fcdcdc" stroke="#3a3a3a" stroke-width="0.9"/>
<rect x="503.20" y="496.40" width="12.40" height="68.80" fill="#bcbcfb" stroke="#3a3a3a" stroke-width="0.9"/>
<rect x="523.20" y="517.00" width="12.70" height="48.20" fill="#fcdcdc" stroke="#3a3a3a" stroke-width="0.9"/>
<line x1="444.70" y1="445.40" x2="444.70" y2="565.60" stroke="#333" stroke-width="0.9"/>
<line x1="440.20" y1="565.20" x2="444.70" y2="565.20" stroke="#333" stroke-width="0.9"/>
<text x="438.70" y="569.34" font-size="11.5" text-anchor="end" fill="#111" stroke="#111" stroke-width="0.28">0</text>
<line x1="440.20" y1="535.35" x2="444.70" y2="535.35" stroke="#333" stroke-width="0.9"/>
<text x="438.70" y="539.49" font-size="11.5" text-anchor="end" fill="#111" stroke="#111" stroke-width="0.28">50</text>
<line x1="440.20" y1="505.50" x2="444.70" y2="505.50" stroke="#333" stroke-width="0.9"/>
<text x="438.70" y="509.64" font-size="11.5" text-anchor="end" fill="#111" stroke="#111" stroke-width="0.28">100</text>
<line x1="440.20" y1="475.65" x2="444.70" y2="475.65" stroke="#333" stroke-width="0.9"/>
<text x="438.70" y="479.79" font-size="11.5" text-anchor="end" fill="#111" stroke="#111" stroke-width="0.28">150</text>
<line x1="440.20" y1="445.80" x2="444.70" y2="445.80" stroke="#333" stroke-width="0.9"/>
<text x="438.70" y="449.94" font-size="11.5" text-anchor="end" fill="#111" stroke="#111" stroke-width="0.28">200</text>
<line x1="467.00" y1="565.20" x2="467.00" y2="570.20" stroke="#333" stroke-width="0.9"/>
<line x1="519.40" y1="565.20" x2="519.40" y2="570.20" stroke="#333" stroke-width="0.9"/>
<line x1="456.70" y1="518.00" x2="456.70" y2="524.60" stroke="#333" stroke-width="0.8"/>
<line x1="453.45" y1="518.00" x2="459.95" y2="518.00" stroke="#333" stroke-width="0.8"/>
<line x1="453.45" y1="524.60" x2="459.95" y2="524.60" stroke="#333" stroke-width="0.8"/>
<path d="M455.70 520.80L457.70 520.80L456.70 518.80Z" fill="#222" stroke="#222" stroke-width="0.5"/>
<path d="M455.70 522.70L457.70 522.70L456.70 520.70Z" fill="#222" stroke="#222" stroke-width="0.5"/>
<path d="M455.70 524.00L457.70 524.00L456.70 522.00Z" fill="#222" stroke="#222" stroke-width="0.5"/>
<line x1="476.85" y1="521.00" x2="476.85" y2="525.00" stroke="#333" stroke-width="0.8"/>
<line x1="473.60" y1="521.00" x2="480.10" y2="521.00" stroke="#333" stroke-width="0.8"/>
<line x1="473.60" y1="525.00" x2="480.10" y2="525.00" stroke="#333" stroke-width="0.8"/>
<circle cx="476.85" cy="521.30" r="1.0" fill="#fff" stroke="#222" stroke-width="0.5"/>
<rect x="475.95" y="523.90" width="1.8" height="1.8" fill="#fff" stroke="#222" stroke-width="0.5"/>
<path d="M475.85 524.60L477.85 524.60L476.85 522.60Z" fill="#fff" stroke="#222" stroke-width="0.5"/>
<line x1="509.40" y1="489.50" x2="509.40" y2="502.60" stroke="#333" stroke-width="0.8"/>
<line x1="506.15" y1="489.50" x2="512.65" y2="489.50" stroke="#333" stroke-width="0.8"/>
<line x1="506.15" y1="502.60" x2="512.65" y2="502.60" stroke="#333" stroke-width="0.8"/>
<path d="M508.40 492.30L510.40 492.30L509.40 490.30Z" fill="#222" stroke="#222" stroke-width="0.5"/>
<path d="M508.40 497.90L510.40 497.90L509.40 495.90Z" fill="#222" stroke="#222" stroke-width="0.5"/>
<path d="M508.40 502.00L510.40 502.00L509.40 500.00Z" fill="#222" stroke="#222" stroke-width="0.5"/>
<line x1="529.55" y1="514.60" x2="529.55" y2="519.80" stroke="#333" stroke-width="0.8"/>
<line x1="526.30" y1="514.60" x2="532.80" y2="514.60" stroke="#333" stroke-width="0.8"/>
<line x1="526.30" y1="519.80" x2="532.80" y2="519.80" stroke="#333" stroke-width="0.8"/>
<circle cx="529.55" cy="514.90" r="1.0" fill="#fff" stroke="#222" stroke-width="0.5"/>
<rect x="528.65" y="517.70" width="1.8" height="1.8" fill="#fff" stroke="#222" stroke-width="0.5"/>
<path d="M528.55 519.40L530.55 519.40L529.55 517.40Z" fill="#fff" stroke="#222" stroke-width="0.5"/>
<path d="M457.40 514.60V510.20H476.70V514.60" fill="none" stroke="#333" stroke-width="0.8"/>
<text x="468.85" y="507.00" font-size="12" text-anchor="middle" fill="#111" stroke="#111" stroke-width="0.28">n.s</text>
<path d="M509.70 484.90V479.90H529.00V484.90" fill="none" stroke="#333" stroke-width="0.8"/>
<text x="520.35" y="480.30" font-size="13" text-anchor="middle" fill="#111" stroke="#111" stroke-width="0.28">**</text>
<text x="467.00" y="583.00" font-size="14.3" text-anchor="middle" fill="#111" stroke="#111" stroke-width="0.28">-FA</text>
<text x="520.60" y="583.00" font-size="14.3" text-anchor="middle" fill="#111" stroke="#111" stroke-width="0.28">+FA</text>
<rect x="465.30" y="427.50" width="5.40" height="5.40" fill="#bcbcfb" stroke="#2a2a2a" stroke-width="0.9"/>
<text x="474.80" y="432.80" font-size="14.3" text-anchor="start" fill="#111" stroke="#111" stroke-width="0.28">EV</text>
<rect x="465.30" y="443.00" width="5.40" height="5.40" fill="#fcdcdc" stroke="#2a2a2a" stroke-width="0.9"/>
<text x="474.80" y="449.30" font-size="14.3" text-anchor="start" fill="#111" stroke="#111" stroke-width="0.28">Plin5</text>
<text x="393.91" y="505.00" font-size="14.2" text-anchor="middle" transform="rotate(-90 393.91 505.00)" fill="#111" stroke="#111" stroke-width="0.28">NADH levels in H9C2</text>
<text x="411.11" y="504.00" font-size="14.2" text-anchor="middle" transform="rotate(-90 411.11 504.00)" fill="#111" stroke="#111" stroke-width="0.28">cells (nmol/mg protein)</text>
<line x1="599.20" y1="566.20" x2="699.00" y2="566.20" stroke="#333" stroke-width="0.9"/>
<rect x="610.60" y="510.10" width="12.70" height="56.10" fill="#bcbcfb" stroke="#3a3a3a" stroke-width="0.9"/>
<rect x="630.20" y="476.40" width="13.10" height="89.80" fill="#fcdcdc" stroke="#3a3a3a" stroke-width="0.9"/>
<rect x="662.90" y="533.50" width="12.70" height="32.70" fill="#bcbcfb" stroke="#3a3a3a" stroke-width="0.9"/>
<rect x="682.90" y="511.10" width="12.70" height="55.10" fill="#fcdcdc" stroke="#3a3a3a" stroke-width="0.9"/>
<line x1="603.70" y1="446.10" x2="603.70" y2="566.60" stroke="#333" stroke-width="0.9"/>
<line x1="599.20" y1="566.20" x2="603.70" y2="566.20" stroke="#333" stroke-width="0.9"/>
<text x="597.70" y="570.34" font-size="11.5" text-anchor="end" fill="#111" stroke="#111" stroke-width="0.28">0.8</text>
<line x1="599.20" y1="536.28" x2="603.70" y2="536.28" stroke="#333" stroke-width="0.9"/>
<text x="597.70" y="540.42" font-size="11.5" text-anchor="end" fill="#111" stroke="#111" stroke-width="0.28">1.0</text>
<line x1="599.20" y1="506.36" x2="603.70" y2="506.36" stroke="#333" stroke-width="0.9"/>
<text x="597.70" y="510.50" font-size="11.5" text-anchor="end" fill="#111" stroke="#111" stroke-width="0.28">1.2</text>
<line x1="599.20" y1="476.44" x2="603.70" y2="476.44" stroke="#333" stroke-width="0.9"/>
<text x="597.70" y="480.58" font-size="11.5" text-anchor="end" fill="#111" stroke="#111" stroke-width="0.28">1.4</text>
<line x1="599.20" y1="446.52" x2="603.70" y2="446.52" stroke="#333" stroke-width="0.9"/>
<text x="597.70" y="450.66" font-size="11.5" text-anchor="end" fill="#111" stroke="#111" stroke-width="0.28">1.6</text>
<line x1="626.80" y1="566.20" x2="626.80" y2="571.20" stroke="#333" stroke-width="0.9"/>
<line x1="678.40" y1="566.20" x2="678.40" y2="571.20" stroke="#333" stroke-width="0.9"/>
<line x1="616.95" y1="499.80" x2="616.95" y2="521.50" stroke="#333" stroke-width="0.8"/>
<line x1="613.70" y1="499.80" x2="620.20" y2="499.80" stroke="#333" stroke-width="0.8"/>
<line x1="613.70" y1="521.50" x2="620.20" y2="521.50" stroke="#333" stroke-width="0.8"/>
<path d="M615.95 502.60L617.95 502.60L616.95 500.60Z" fill="#222" stroke="#222" stroke-width="0.5"/>
<path d="M615.95 511.60L617.95 511.60L616.95 509.60Z" fill="#222" stroke="#222" stroke-width="0.5"/>
<path d="M615.95 520.90L617.95 520.90L616.95 518.90Z" fill="#222" stroke="#222" stroke-width="0.5"/>
<line x1="636.75" y1="462.60" x2="636.75" y2="488.80" stroke="#333" stroke-width="0.8"/>
<line x1="633.50" y1="462.60" x2="640.00" y2="462.60" stroke="#333" stroke-width="0.8"/>
<line x1="633.50" y1="488.80" x2="640.00" y2="488.80" stroke="#333" stroke-width="0.8"/>
<circle cx="636.75" cy="462.90" r="1.0" fill="#fff" stroke="#222" stroke-width="0.5"/>
<rect x="635.85" y="477.10" width="1.8" height="1.8" fill="#fff" stroke="#222" stroke-width="0.5"/>
<path d="M635.75 488.40L637.75 488.40L636.75 486.40Z" fill="#fff" stroke="#222" stroke-width="0.5"/>
<line x1="669.25" y1="525.60" x2="669.25" y2="540.00" stroke="#333" stroke-width="0.8"/>
<line x1="666.00" y1="525.60" x2="672.50" y2="525.60" stroke="#333" stroke-width="0.8"/>
<line x1="666.00" y1="540.00" x2="672.50" y2="540.00" stroke="#333" stroke-width="0.8"/>
<path d="M668.25 528.40L670.25 528.40L669.25 526.40Z" fill="#222" stroke="#222" stroke-width="0.5"/>
<path d="M668.25 535.00L670.25 535.00L669.25 533.00Z" fill="#222" stroke="#222" stroke-width="0.5"/>
<path d="M668.25 539.40L670.25 539.40L669.25 537.40Z" fill="#222" stroke="#222" stroke-width="0.5"/>
<line x1="689.25" y1="502.50" x2="689.25" y2="520.40" stroke="#333" stroke-width="0.8"/>
<line x1="686.00" y1="502.50" x2="692.50" y2="502.50" stroke="#333" stroke-width="0.8"/>
<line x1="686.00" y1="520.40" x2="692.50" y2="520.40" stroke="#333" stroke-width="0.8"/>
<circle cx="689.25" cy="502.80" r="1.0" fill="#fff" stroke="#222" stroke-width="0.5"/>
<rect x="688.35" y="511.80" width="1.8" height="1.8" fill="#fff" stroke="#222" stroke-width="0.5"/>
<path d="M688.25 520.00L690.25 520.00L689.25 518.00Z" fill="#fff" stroke="#222" stroke-width="0.5"/>
<path d="M618.20 459.00V454.00H637.10V459.00" fill="none" stroke="#333" stroke-width="0.8"/>
<text x="628.65" y="454.40" font-size="13" text-anchor="middle" fill="#111" stroke="#111" stroke-width="0.28">*</text>
<path d="M670.80 502.00V497.00H689.00V502.00" fill="none" stroke="#333" stroke-width="0.8"/>
<text x="680.90" y="497.40" font-size="13" text-anchor="middle" fill="#111" stroke="#111" stroke-width="0.28">*</text>
<text x="627.80" y="584.00" font-size="14.3" text-anchor="middle" fill="#111" stroke="#111" stroke-width="0.28">-FA</text>
<text x="681.60" y="584.00" font-size="14.3" text-anchor="middle" fill="#111" stroke="#111" stroke-width="0.28">+FA</text>
<rect x="663.30" y="423.20" width="5.40" height="5.40" fill="#bcbcfb" stroke="#2a2a2a" stroke-width="0.9"/>
<text x="672.50" y="428.40" font-size="14.3" text-anchor="start" fill="#111" stroke="#111" stroke-width="0.28">EV</text>
<rect x="663.30" y="438.30" width="5.40" height="5.40" fill="#fcdcdc" stroke="#2a2a2a" stroke-width="0.9"/>
<text x="672.80" y="445.20" font-size="14.3" text-anchor="start" fill="#111" stroke="#111" stroke-width="0.28">Plin5</text>
<text x="558.91" y="491.70" font-size="14.2" text-anchor="middle" transform="rotate(-90 558.91 491.70)" fill="#111" stroke="#111" stroke-width="0.28">NAD+/NADH ratio in</text>
<text x="575.91" y="489.80" font-size="14.2" text-anchor="middle" transform="rotate(-90 575.91 489.80)" fill="#111" stroke="#111" stroke-width="0.28">H9C2 cells</text>
<text x="16.30" y="60.20" font-size="13.5" text-anchor="middle" font-style="italic" transform="rotate(-90 16.30 60.20)" fill="#111" stroke="#111" stroke-width="0.28">Plin5<tspan font-size="8.37" dy="-4.46">+/+</tspan></text>
<text x="16.30" y="113.00" font-size="13.5" text-anchor="middle" font-style="italic" transform="rotate(-90 16.30 113.00)" fill="#111" stroke="#111" stroke-width="0.28">Plin5<tspan font-size="8.37" dy="-4.46">-/-</tspan></text>
</svg></body></html>
